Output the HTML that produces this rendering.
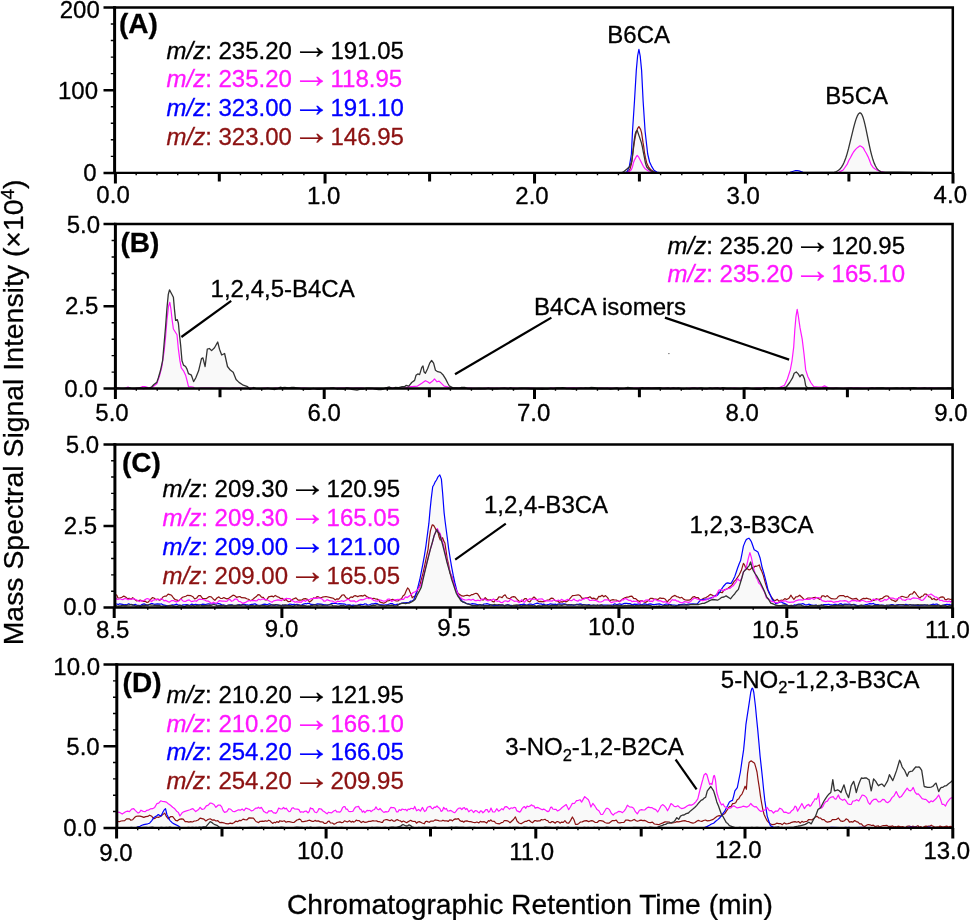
<!DOCTYPE html>
<html><head><meta charset="utf-8"><style>
html,body{margin:0;padding:0;background:#fff;width:971px;height:920px;overflow:hidden;}
svg{display:block;}
text{font-family:"Liberation Sans",sans-serif;stroke-width:0.3px;stroke-linejoin:round;}
</style></head><body>
<svg width="971" height="920" viewBox="0 0 971 920">
<rect width="971" height="920" fill="#fff"/>
<path d="M114.6,172.9 L621.1,172.9 L623.1,172.2 L628.6,167.6 L629.1,166.9 L629.6,164.9 L631.1,155.8 L631.6,149.9 L632.1,139.5 L632.6,129.7 L634.1,106.9 L634.6,99.1 L636.1,73.8 L636.6,67.1 L637.6,56.0 L638.6,50.9 L639.1,50.4 L640.1,55.5 L640.6,60.1 L641.6,70.4 L643.1,100.8 L645.1,131.2 L647.6,153.1 L648.1,155.7 L649.6,162.0 L651.6,166.3 L654.1,170.3 L656.6,171.9 L660.1,172.9 L788.1,172.6 L796.1,170.5 L799.1,171.0 L802.1,171.9 L832.6,172.5 L836.6,171.5 L838.6,170.3 L840.1,168.9 L841.6,167.0 L843.1,164.4 L844.1,162.3 L845.1,159.8 L846.1,156.9 L847.1,153.8 L848.6,148.4 L853.6,127.8 L854.6,124.0 L855.6,120.6 L856.6,117.7 L857.1,116.5 L857.6,115.4 L858.1,114.5 L858.6,113.8 L859.1,113.3 L859.6,113.0 L860.1,112.9 L860.6,113.1 L861.1,113.5 L861.6,114.1 L862.1,115.1 L862.6,116.2 L863.1,117.6 L863.6,119.3 L864.1,121.1 L865.1,125.2 L866.6,132.1 L869.1,144.3 L870.1,148.8 L871.1,153.0 L872.1,156.8 L873.1,160.1 L874.1,162.9 L875.1,165.2 L876.1,167.1 L877.1,168.6 L878.6,170.3 L879.6,171.0 L885.6,172.7 L952.6,172.9Z" fill="#f9f9f9" stroke="none"/>
<path d="M115.5,172.9 L624.0,172.9 L626.0,172.6 L628.3,171.8 L630.0,169.1 L631.3,164.3 L632.0,160.2 L634.1,143.7 L635.1,137.6 L636.1,132.8 L637.5,128.7 L638.9,126.6 L640.6,129.4 L641.6,132.8 L643.0,142.4 L643.7,146.5 L644.4,152.0 L645.4,157.4 L646.7,162.9 L648.5,167.0 L650.9,169.8 L653.6,171.5 L656.0,172.4 L659.0,172.9 L952.0,172.9" fill="none" stroke="#8c1212" stroke-width="1.2" stroke-linejoin="round"/>
<path d="M115.5,172.9 L622.0,172.9 L625.0,172.6 L627.2,171.8 L629.4,166.1 L631.4,154.0 L632.5,131.2 L634.5,100.8 L636.3,70.4 L637.6,56.0 L638.9,49.4 L640.2,56.0 L641.6,70.4 L643.1,100.8 L645.1,131.2 L647.7,154.0 L649.6,162.0 L651.5,166.1 L654.0,170.2 L656.8,172.0 L660.0,172.9 L787.0,172.8 L790.0,172.3 L795.0,170.7 L797.0,170.5 L799.0,170.9 L803.0,172.3 L807.0,172.8 L953.0,172.9" fill="none" stroke="#0000ff" stroke-width="1.2" stroke-linejoin="round"/>
<path d="M115.5,172.9 L625.0,172.9 L627.0,172.6 L629.3,171.5 L631.3,169.8 L632.4,167.0 L633.4,162.9 L634.4,160.2 L635.8,157.4 L637.2,155.4 L638.5,156.8 L643.3,166.3 L645.4,169.1 L648.1,170.8 L650.9,171.5 L653.0,172.4 L655.0,172.9 L838.0,172.9 L840.1,171.6 L843.2,170.0 L847.4,163.8 L848.9,160.2 L850.4,157.7 L852.0,154.6 L853.5,152.0 L855.6,149.4 L857.7,147.4 L860.0,145.8 L861.8,146.8 L863.3,147.9 L864.9,151.0 L866.4,153.5 L868.0,156.6 L869.5,160.2 L871.0,164.4 L873.1,167.4 L875.2,169.0 L877.7,170.5 L880.3,171.3 L882.4,171.7 L886.0,172.9 L952.0,172.9" fill="none" stroke="#ff17ff" stroke-width="1.2" stroke-linejoin="round"/>
<path d="M115.5,172.9 L621.0,172.9 L623.1,172.2 L626.9,169.1 L629.3,167.0 L630.7,164.3 L631.7,161.5 L632.4,156.1 L633.0,150.6 L633.7,144.4 L634.4,139.0 L635.1,134.8 L636.1,131.4 L637.2,130.4 L641.3,142.4 L642.3,146.5 L643.3,152.0 L644.4,157.4 L645.4,162.9 L646.7,167.0 L648.8,169.4 L651.5,171.1 L654.0,172.2 L657.0,172.9 L833.0,172.5 L836.5,171.5 L838.5,170.3 L840.0,169.0 L841.5,167.1 L843.0,164.6 L844.0,162.5 L845.0,160.1 L846.0,157.3 L847.0,154.1 L848.5,148.7 L853.5,128.2 L854.5,124.4 L855.5,120.9 L856.5,117.9 L857.0,116.7 L857.5,115.6 L858.0,114.7 L858.5,113.9 L859.0,113.4 L859.5,113.0 L860.0,112.9 L860.5,113.0 L861.0,113.3 L861.5,114.0 L862.0,114.8 L862.5,116.0 L863.0,117.3 L863.5,118.9 L864.0,120.7 L865.0,124.7 L866.0,129.2 L869.5,146.1 L870.5,150.6 L871.5,154.6 L872.5,158.2 L873.5,161.3 L874.5,163.9 L875.5,166.0 L876.5,167.8 L877.5,169.1 L879.0,170.6 L881.0,171.8 L952.5,172.9" fill="none" stroke="#333333" stroke-width="1.3" stroke-linejoin="round"/>
<path d="M115.4,388.6 L115.4,387.2 L116.9,387.8 L124.9,388.3 L127.9,387.0 L130.4,388.1 L134.9,388.5 L138.9,388.0 L142.4,386.7 L144.9,386.7 L149.4,388.0 L149.9,388.0 L151.9,386.6 L153.9,384.5 L156.4,382.7 L156.9,382.1 L158.4,377.7 L160.4,370.8 L162.4,361.6 L162.9,357.3 L165.4,328.8 L165.9,322.2 L166.9,308.8 L167.9,298.5 L168.4,294.0 L169.4,290.2 L169.9,290.6 L173.4,297.3 L174.4,308.8 L175.4,318.5 L175.9,320.3 L176.9,319.8 L177.4,319.9 L178.4,323.3 L178.9,328.7 L179.4,333.8 L180.4,343.0 L180.9,348.3 L181.9,359.6 L182.4,361.9 L183.4,364.8 L183.9,365.4 L185.4,366.4 L185.9,367.1 L186.9,369.0 L187.4,370.3 L188.4,373.4 L188.9,373.9 L191.4,375.2 L193.4,381.0 L193.9,381.1 L195.4,378.5 L195.9,377.5 L198.4,371.3 L198.9,369.5 L201.4,359.0 L201.9,358.4 L202.9,357.9 L204.9,365.7 L205.4,364.1 L206.9,352.3 L207.4,349.2 L209.4,348.5 L211.4,350.4 L211.9,350.3 L214.4,347.9 L217.4,342.5 L217.9,342.8 L219.4,348.8 L221.4,354.2 L221.9,354.9 L224.4,353.6 L224.9,354.8 L227.4,366.1 L227.9,367.0 L230.4,370.2 L232.9,372.1 L233.4,372.8 L235.9,379.0 L236.4,379.8 L238.9,382.3 L243.4,385.2 L247.4,386.6 L248.9,388.1 L251.9,388.3 L253.9,387.6 L255.4,388.4 L267.9,388.2 L278.4,388.2 L279.9,387.3 L288.9,387.8 L293.9,387.3 L299.4,388.2 L312.4,388.6 L313.4,388.4 L314.4,388.6 L333.4,387.8 L335.4,388.3 L345.9,388.1 L346.9,387.9 L365.4,388.4 L366.9,388.1 L384.9,388.3 L389.4,387.0 L391.4,388.0 L393.4,388.0 L394.9,387.6 L398.9,387.6 L402.4,386.6 L404.9,386.5 L405.9,385.5 L408.4,386.0 L408.9,386.0 L411.4,382.9 L414.4,380.5 L414.9,379.3 L415.9,375.7 L416.4,375.0 L417.9,373.9 L419.4,374.5 L419.9,373.6 L421.4,368.7 L421.9,367.3 L422.9,366.1 L423.4,368.3 L423.9,371.1 L424.4,372.1 L425.4,373.2 L427.4,369.2 L429.4,363.9 L429.9,362.8 L431.4,360.8 L431.9,360.9 L433.4,362.8 L433.9,364.2 L435.4,369.9 L435.9,370.6 L437.9,371.7 L440.4,372.4 L443.4,375.3 L445.4,378.6 L448.9,385.3 L449.4,385.9 L452.9,387.7 L459.9,388.0 L461.4,387.5 L464.9,387.5 L466.4,388.0 L509.4,388.3 L510.4,388.0 L511.4,388.2 L555.4,388.2 L556.9,387.9 L562.9,387.7 L564.4,388.1 L583.9,388.2 L585.4,387.8 L588.4,388.2 L590.9,387.5 L594.4,387.6 L597.9,388.4 L616.9,388.0 L618.4,388.4 L624.4,388.3 L627.9,387.5 L631.9,388.2 L641.4,388.0 L642.4,387.7 L659.9,387.8 L662.4,388.3 L668.4,388.1 L669.9,388.4 L673.4,387.9 L676.9,388.2 L678.4,388.0 L699.4,388.2 L700.9,388.0 L707.4,388.6 L709.4,388.0 L721.4,388.3 L722.9,387.8 L726.4,388.5 L730.4,388.3 L741.9,388.5 L745.9,387.8 L753.9,388.5 L762.4,388.4 L763.4,388.0 L766.9,387.6 L769.4,388.2 L776.4,388.3 L778.9,387.9 L784.4,385.3 L784.9,384.4 L787.4,379.0 L789.9,371.2 L790.4,369.4 L791.9,361.3 L792.4,357.6 L793.4,349.5 L793.9,344.0 L794.4,336.2 L794.9,328.9 L795.9,317.4 L796.4,314.0 L796.9,311.1 L797.4,310.5 L797.9,313.4 L798.4,316.5 L799.9,327.0 L800.4,329.8 L801.9,337.5 L802.4,340.7 L803.9,353.1 L805.4,367.1 L805.9,370.5 L807.9,376.8 L810.9,382.6 L813.4,386.1 L813.9,386.5 L821.9,387.0 L824.4,385.9 L828.9,388.1 L836.4,388.0 L875.9,388.1 L883.4,388.1 L885.4,388.4 L913.9,387.7 L917.4,388.2 L924.9,388.0 L948.9,387.8 L950.9,388.0 L952.4,387.3 L952.4,388.6Z" fill="#f9f9f9" stroke="none"/>
<path d="M115.5,387.3 L117.0,387.9 L120.4,388.4 L124.2,388.6 L128.0,387.0 L130.9,388.3 L134.2,388.9 L136.5,388.2 L139.0,388.0 L142.2,386.7 L144.7,386.6 L150.8,388.3 L156.8,383.8 L159.7,375.2 L161.9,366.5 L164.0,352.1 L165.5,337.7 L166.9,320.4 L168.6,306.0 L169.8,302.3 L170.9,308.8 L172.0,318.9 L173.4,329.0 L177.0,334.8 L178.4,349.2 L179.9,360.7 L181.3,367.9 L183.5,370.8 L185.6,375.2 L187.1,380.9 L188.5,386.7 L192.9,387.0 L195.0,388.5 L198.6,388.4 L201.2,388.1 L211.4,388.1 L214.9,388.3 L217.8,388.3 L221.1,388.2 L230.1,388.6 L232.8,388.2 L236.4,388.4 L239.3,388.2 L244.3,388.5 L247.5,388.3 L250.8,388.2 L254.6,388.5 L260.9,388.5 L264.8,388.2 L272.5,388.5 L275.5,388.2 L281.3,388.2 L283.6,388.1 L289.4,388.4 L291.5,388.3 L295.2,388.4 L304.6,388.0 L310.3,388.5 L312.8,388.7 L320.2,388.4 L323.8,388.5 L330.2,388.3 L332.5,388.4 L340.7,388.0 L346.4,388.2 L350.2,388.1 L353.0,388.4 L356.2,388.2 L361.5,388.2 L364.2,388.4 L370.7,388.6 L376.2,388.3 L379.2,388.5 L385.1,388.3 L387.3,388.0 L390.7,388.0 L394.1,388.1 L397.9,388.4 L400.1,388.2 L403.9,388.3 L408.8,386.9 L417.5,386.1 L421.8,383.3 L425.4,380.7 L427.6,381.8 L429.7,383.3 L432.6,381.1 L434.5,378.9 L437.0,381.8 L439.1,381.1 L444.2,386.1 L447.8,386.9 L450.0,388.2 L454.6,388.3 L460.4,388.0 L463.3,387.9 L465.5,388.1 L469.1,388.0 L471.6,388.2 L475.4,388.3 L480.4,388.6 L483.0,388.3 L488.9,388.1 L494.8,388.3 L497.0,388.1 L499.5,388.3 L505.5,388.2 L508.2,388.4 L511.5,388.2 L518.3,388.4 L521.0,388.6 L529.7,388.0 L536.2,388.5 L542.0,388.4 L544.9,388.5 L548.7,388.4 L552.0,388.1 L559.3,388.5 L565.2,388.1 L573.9,387.9 L576.4,388.1 L580.1,388.0 L586.7,388.4 L593.2,388.2 L596.9,388.5 L599.3,388.2 L601.8,388.1 L604.8,388.3 L607.3,388.0 L610.2,388.1 L613.3,388.4 L619.9,388.4 L625.6,388.6 L635.2,388.0 L639.8,388.1 L647.1,387.9 L650.8,388.1 L655.9,388.1 L658.2,388.4 L662.1,388.3 L665.0,388.1 L667.3,388.1 L669.9,388.4 L672.3,388.1 L684.5,388.5 L690.6,388.1 L697.6,388.2 L700.1,388.4 L707.5,388.6 L710.9,388.3 L714.0,388.2 L716.1,388.0 L718.7,388.0 L725.0,388.6 L728.9,388.7 L734.1,388.2 L740.3,388.5 L743.3,388.5 L746.8,388.2 L750.1,388.4 L753.6,388.5 L756.6,388.2 L760.1,388.2 L763.6,388.5 L766.4,388.3 L770.3,388.4 L772.7,388.2 L775.0,388.4 L778.6,388.2 L780.5,387.0 L784.5,385.3 L787.4,379.0 L790.3,369.9 L792.0,360.8 L793.7,347.1 L794.8,330.0 L796.0,316.3 L797.2,309.4 L798.2,315.1 L800.0,327.7 L802.2,339.1 L804.0,353.9 L805.7,369.9 L807.9,376.8 L810.8,382.5 L813.7,386.5 L818.2,387.0 L822.0,387.0 L824.5,385.9 L827.0,387.0 L829.0,388.2 L836.2,388.0 L838.7,388.4 L844.1,388.3 L853.3,387.9 L861.9,388.1 L865.8,388.0 L875.6,388.2 L878.9,388.5 L882.0,388.2 L884.2,388.5 L887.2,388.2 L894.4,388.5 L904.2,388.0 L911.4,388.5 L914.4,388.2 L916.7,388.3 L919.7,388.1 L923.5,388.2 L929.4,388.0 L935.0,388.1 L938.6,388.4 L941.0,388.3 L943.4,388.4 L950.7,388.1 L952.5,387.3" fill="none" stroke="#ff17ff" stroke-width="1.2" stroke-linejoin="round"/>
<path d="M115.5,387.2 L117.0,387.9 L120.6,388.3 L126.1,388.4 L129.6,387.9 L131.8,388.4 L134.6,388.5 L140.1,388.0 L143.9,388.5 L146.1,387.9 L149.2,388.4 L151.8,386.7 L153.9,384.5 L156.8,382.4 L158.3,378.0 L160.4,370.8 L162.6,360.7 L164.0,344.9 L165.5,327.6 L166.9,308.8 L168.3,294.4 L169.5,289.8 L173.4,297.3 L174.4,308.8 L175.6,320.4 L177.3,319.6 L178.4,323.3 L179.2,331.9 L180.6,344.9 L182.0,360.7 L183.5,365.1 L185.6,366.5 L187.1,369.4 L188.5,373.7 L191.4,375.2 L193.6,381.6 L195.7,378.0 L198.6,370.8 L201.5,358.6 L202.9,357.9 L205.1,366.5 L207.3,349.2 L209.4,348.5 L211.6,350.6 L214.5,347.8 L217.7,342.0 L219.5,349.2 L221.7,355.0 L224.6,353.5 L227.5,366.5 L230.3,370.1 L233.2,372.3 L236.1,379.5 L239.0,382.4 L243.3,385.2 L247.6,386.7 L250.0,389.3 L253.8,387.5 L256.1,388.7 L259.5,388.8 L265.3,388.6 L267.7,388.2 L274.4,389.6 L277.5,388.7 L280.1,387.2 L282.2,387.6 L284.9,387.5 L288.6,387.9 L291.7,387.3 L293.9,387.3 L300.1,388.3 L302.5,389.2 L309.8,389.4 L313.3,388.4 L317.2,389.4 L319.6,389.4 L323.0,388.7 L326.0,388.4 L329.8,388.2 L333.4,387.8 L337.1,389.0 L340.0,388.7 L343.8,389.0 L346.7,387.8 L349.4,388.5 L351.8,389.3 L357.0,390.1 L360.4,389.1 L363.5,389.0 L366.6,388.1 L369.1,388.1 L372.9,388.4 L375.1,389.1 L378.5,389.6 L381.0,389.5 L383.2,389.2 L385.8,387.9 L389.4,387.0 L392.5,388.5 L395.0,387.5 L398.7,387.6 L402.1,386.7 L404.8,386.5 L406.0,385.4 L408.8,386.1 L411.7,382.5 L414.6,380.4 L416.0,375.3 L417.8,373.9 L419.6,374.6 L421.8,367.4 L423.0,366.0 L424.0,371.7 L425.4,373.2 L427.6,368.8 L429.7,363.1 L431.6,360.5 L433.6,363.1 L435.5,370.3 L437.7,371.7 L440.6,372.4 L443.4,375.3 L445.6,378.9 L447.8,383.3 L449.2,385.8 L453.0,387.8 L456.1,387.8 L459.3,388.2 L461.5,387.4 L465.1,387.5 L467.6,388.6 L470.6,388.9 L479.6,388.5 L485.2,388.8 L488.4,388.2 L490.5,388.8 L497.2,388.8 L500.9,388.4 L504.5,388.2 L508.2,388.8 L510.5,387.9 L513.0,388.8 L518.5,388.5 L521.3,388.1 L528.2,388.5 L532.0,388.9 L535.9,388.8 L542.1,389.3 L545.2,389.1 L547.7,389.1 L550.8,388.3 L553.0,388.8 L556.9,387.9 L560.5,387.9 L562.8,387.7 L566.3,388.5 L570.7,388.7 L573.4,389.0 L581.1,388.1 L583.4,388.3 L585.5,387.8 L588.4,388.2 L590.7,387.5 L594.4,387.6 L598.2,388.5 L601.0,388.3 L604.1,388.5 L607.2,388.4 L610.4,389.0 L616.9,387.9 L619.5,388.8 L622.5,388.6 L624.7,388.3 L627.8,387.5 L633.2,388.3 L638.9,388.7 L642.3,387.7 L644.5,388.2 L648.4,387.8 L651.3,388.2 L659.8,387.7 L662.6,388.4 L664.7,388.4 L668.1,388.0 L670.6,388.6 L673.2,387.9 L676.1,388.4 L678.3,388.0 L681.0,388.6 L683.9,389.0 L686.3,388.3 L689.6,388.9 L692.5,388.1 L694.8,388.2 L697.3,388.7 L700.9,387.9 L703.5,388.5 L706.7,388.8 L709.5,388.0 L712.1,388.5 L714.7,388.1 L717.5,388.0 L720.4,388.8 L722.7,387.7 L726.5,388.5 L730.4,388.3 L734.2,388.9 L740.3,388.8 L743.4,388.2 L746.1,387.8 L753.1,389.0 L756.5,389.3 L760.2,389.3 L763.3,388.0 L766.7,387.6 L769.4,388.2 L772.4,388.0 L776.2,388.3 L778.9,387.9 L782.6,388.0 L786.3,387.0 L789.7,382.5 L792.5,377.9 L794.2,373.3 L796.3,372.0 L798.2,373.9 L800.0,376.8 L801.1,375.0 L802.8,375.0 L804.5,379.0 L805.7,385.9 L806.8,387.0 L808.0,388.0 L810.3,388.0 L812.7,387.8 L815.5,388.3 L819.0,388.5 L821.5,388.4 L824.1,388.0 L826.4,387.9 L830.2,388.3 L833.7,388.5 L836.2,388.2 L843.1,388.6 L851.0,388.2 L853.3,388.6 L857.0,388.4 L862.7,388.7 L869.2,388.4 L872.1,388.0 L874.7,388.4 L876.9,387.9 L880.1,387.9 L883.2,388.0 L885.9,388.5 L888.4,388.3 L890.8,388.3 L896.9,388.0 L900.0,388.4 L902.3,388.0 L904.8,388.3 L913.6,387.7 L917.0,388.2 L920.8,388.4 L924.6,387.9 L927.2,388.4 L930.7,388.2 L934.5,388.3 L938.1,388.1 L946.7,388.0 L948.8,387.8 L951.2,388.2 L952.5,387.2" fill="none" stroke="#333333" stroke-width="1.3" stroke-linejoin="round"/>
<path d="M114.9,607.5 L114.9,594.5 L115.4,594.5 L116.4,595.1 L116.9,595.6 L117.9,597.8 L118.4,598.0 L119.9,598.0 L121.9,597.2 L123.4,596.4 L123.9,596.2 L125.9,597.2 L127.4,598.5 L129.4,598.4 L130.9,599.1 L131.4,598.9 L132.4,598.0 L132.9,597.9 L134.4,599.0 L137.9,600.6 L139.9,600.1 L140.4,600.2 L142.4,601.0 L142.9,600.9 L146.9,598.7 L147.4,598.6 L148.9,599.1 L149.9,599.9 L150.4,599.7 L152.4,597.7 L152.9,597.6 L154.4,598.2 L155.4,599.2 L155.9,599.3 L156.4,599.1 L156.9,599.3 L157.4,599.2 L157.9,599.0 L158.9,599.7 L159.4,599.8 L160.9,598.8 L161.4,598.9 L161.9,598.5 L162.9,597.1 L164.4,596.3 L166.4,596.1 L167.9,594.3 L168.4,594.2 L171.4,595.2 L171.9,595.7 L173.4,597.9 L175.4,599.8 L178.4,600.5 L178.9,600.5 L182.4,597.4 L185.9,596.3 L187.4,595.3 L190.9,595.7 L192.9,596.8 L194.4,598.6 L194.9,598.9 L196.4,598.2 L196.9,597.8 L198.4,596.0 L198.9,595.7 L200.4,595.7 L200.9,596.2 L202.4,598.1 L202.9,598.3 L205.9,598.7 L206.4,598.5 L209.4,596.5 L210.9,596.7 L211.4,597.0 L214.9,600.4 L216.9,598.0 L218.9,596.9 L220.4,598.3 L221.9,598.5 L222.4,598.4 L223.9,597.5 L225.4,598.4 L226.9,598.8 L228.9,598.2 L232.9,595.3 L234.4,595.6 L234.9,595.8 L236.4,597.2 L239.9,596.6 L241.4,597.6 L244.9,597.9 L248.4,599.2 L250.4,600.6 L252.4,599.8 L256.4,596.5 L257.9,594.7 L259.4,594.8 L259.9,595.1 L261.4,597.1 L262.9,597.3 L263.4,597.6 L264.4,599.0 L264.9,599.5 L265.9,599.3 L266.9,599.7 L268.4,597.1 L268.9,596.8 L271.9,596.1 L273.4,596.8 L273.9,596.6 L274.9,595.7 L275.4,595.5 L277.4,596.7 L278.9,597.3 L280.4,598.4 L280.9,598.7 L282.4,598.3 L283.4,599.2 L285.4,598.8 L286.4,598.2 L287.9,598.6 L289.9,598.6 L291.4,600.0 L295.9,598.0 L297.9,599.9 L298.4,600.1 L301.9,600.0 L303.4,599.0 L305.4,598.7 L307.4,599.4 L307.9,599.9 L310.4,599.0 L311.4,598.5 L312.9,598.6 L313.4,598.1 L313.9,598.0 L314.4,598.2 L315.4,598.2 L316.9,596.7 L318.4,596.9 L320.4,598.1 L322.4,597.2 L325.9,596.5 L333.4,598.4 L334.9,599.7 L335.4,600.0 L336.9,598.9 L338.4,599.2 L338.9,599.0 L341.9,595.4 L342.4,595.0 L343.9,594.9 L344.4,595.4 L345.9,597.4 L347.4,598.4 L347.9,598.6 L349.4,598.3 L350.9,597.0 L352.4,597.4 L352.9,597.1 L353.9,596.1 L354.4,595.8 L355.4,595.7 L357.4,596.4 L357.9,596.5 L359.9,595.8 L361.4,595.6 L362.9,596.0 L364.4,595.2 L364.9,595.2 L366.9,596.6 L369.9,598.0 L372.4,598.5 L373.9,598.3 L375.9,599.0 L376.9,599.1 L378.9,600.0 L379.4,599.8 L383.4,601.1 L385.4,601.0 L385.9,600.8 L387.9,599.1 L389.4,599.2 L389.9,599.4 L390.4,600.0 L392.4,599.5 L392.9,599.5 L393.9,600.0 L397.9,599.5 L399.4,599.8 L399.9,599.4 L401.4,598.7 L401.9,598.0 L402.9,596.1 L403.4,595.5 L404.4,594.8 L404.9,594.0 L406.4,590.5 L407.4,588.3 L407.9,588.2 L408.4,588.7 L408.9,589.4 L409.9,591.7 L410.9,593.6 L411.4,594.4 L412.9,592.8 L413.4,592.4 L415.4,591.5 L416.9,590.4 L417.4,589.1 L418.4,585.2 L419.9,579.0 L422.9,563.7 L424.4,555.3 L425.9,546.0 L428.9,523.2 L429.9,512.2 L430.9,502.0 L431.4,497.3 L432.4,489.1 L432.9,486.4 L433.9,484.6 L434.9,482.4 L436.4,480.1 L437.9,477.0 L439.4,475.3 L439.9,475.2 L441.4,479.1 L442.4,490.5 L442.9,496.8 L443.9,510.0 L444.4,515.1 L445.4,523.1 L447.4,538.3 L448.4,546.6 L448.9,550.4 L450.4,559.7 L451.4,565.5 L451.9,568.3 L453.4,575.9 L454.9,582.9 L456.9,591.0 L457.4,592.2 L457.9,593.1 L458.4,593.7 L461.9,595.9 L463.4,596.1 L467.4,595.2 L469.4,595.9 L471.4,594.8 L472.9,594.6 L474.4,593.7 L475.9,593.2 L477.4,593.8 L477.9,594.4 L480.4,598.3 L481.4,599.3 L482.4,599.0 L483.9,599.1 L484.4,598.7 L484.9,598.0 L485.4,597.7 L486.9,599.3 L488.9,600.0 L490.4,599.6 L491.4,600.2 L493.4,599.0 L493.9,599.2 L495.4,600.2 L495.9,599.8 L497.4,599.3 L498.9,597.0 L500.4,597.0 L501.9,597.5 L502.4,597.2 L503.4,595.9 L504.9,594.9 L505.4,595.3 L506.9,597.6 L508.9,598.4 L510.4,598.2 L511.9,597.0 L513.4,596.7 L514.9,596.8 L519.4,601.4 L519.9,601.6 L521.9,599.7 L522.4,600.4 L522.9,600.7 L524.4,598.9 L524.9,598.6 L526.4,598.7 L526.9,599.5 L527.4,599.9 L528.9,599.4 L529.9,598.7 L531.4,599.2 L531.9,599.0 L533.9,597.1 L535.4,598.3 L536.4,599.4 L536.9,599.8 L540.4,598.9 L541.9,598.9 L542.4,599.1 L543.9,600.5 L544.4,600.9 L549.4,599.6 L550.9,598.4 L551.4,598.2 L552.9,598.4 L553.4,598.8 L554.4,599.9 L556.9,600.7 L557.9,600.2 L558.4,600.1 L559.9,601.1 L561.4,599.4 L563.9,600.4 L565.4,600.4 L567.4,599.4 L567.9,599.3 L568.9,599.8 L572.4,595.6 L577.9,594.9 L578.4,594.9 L579.9,595.5 L580.4,596.0 L581.9,598.1 L582.4,598.4 L584.4,598.2 L586.4,597.7 L587.9,597.8 L589.9,596.8 L591.9,598.5 L593.4,598.2 L593.9,598.2 L595.4,599.0 L596.9,599.1 L597.4,598.8 L598.4,597.1 L598.9,596.4 L600.4,596.6 L601.9,595.5 L602.4,595.6 L603.9,596.8 L605.4,595.7 L605.9,596.0 L607.4,597.4 L607.9,598.1 L609.4,600.6 L609.9,601.0 L611.4,600.0 L612.9,599.7 L616.4,600.1 L617.9,600.8 L618.4,600.7 L619.9,601.2 L623.4,598.6 L626.4,597.2 L627.9,597.2 L630.4,596.4 L631.9,596.2 L633.9,598.5 L635.4,598.6 L635.9,598.8 L637.4,600.3 L639.4,601.3 L639.9,601.3 L641.4,600.6 L641.9,600.7 L642.9,601.2 L643.9,601.3 L644.4,601.1 L645.4,600.2 L648.9,599.9 L649.9,598.8 L650.4,598.4 L652.4,598.5 L653.9,599.0 L657.9,599.5 L659.4,598.2 L659.9,597.9 L663.4,598.3 L665.4,599.2 L666.9,601.6 L667.4,601.9 L668.9,599.8 L670.4,598.7 L671.9,597.0 L674.9,595.5 L675.4,595.7 L676.9,596.6 L678.4,597.0 L679.9,597.9 L681.9,597.4 L683.4,598.9 L685.4,600.0 L688.9,600.2 L690.9,599.3 L692.4,597.4 L692.9,597.1 L694.4,596.6 L695.9,597.6 L696.4,597.7 L697.9,597.5 L699.9,599.7 L701.4,599.5 L703.9,598.2 L707.9,596.4 L709.9,594.8 L710.4,594.4 L713.9,596.2 L714.9,596.0 L715.9,595.2 L716.9,594.1 L717.4,592.7 L718.9,590.1 L721.4,589.3 L723.4,586.4 L725.9,583.5 L726.4,583.2 L727.9,582.9 L729.4,583.3 L730.9,583.3 L731.4,582.9 L734.4,577.2 L734.9,576.1 L738.9,564.4 L739.4,563.2 L740.4,561.0 L740.9,559.1 L743.4,546.1 L744.9,542.5 L745.9,540.4 L746.4,539.5 L747.9,538.6 L748.9,538.2 L749.9,539.3 L751.4,541.8 L753.9,548.9 L754.4,549.8 L757.9,551.9 L759.9,557.4 L760.4,559.5 L761.9,566.4 L762.4,568.5 L763.9,573.5 L766.4,582.9 L767.9,589.4 L770.4,595.2 L773.4,599.8 L773.9,600.2 L775.4,600.4 L776.9,599.5 L777.4,599.4 L778.9,601.1 L779.4,601.1 L780.9,600.2 L782.9,600.4 L784.4,599.0 L784.9,598.7 L786.4,599.4 L786.9,599.4 L788.9,598.2 L790.9,595.3 L791.4,595.9 L792.4,597.6 L793.9,599.5 L795.9,596.8 L797.9,596.5 L799.4,595.4 L799.9,595.4 L803.9,599.4 L805.9,599.3 L807.9,598.0 L811.4,598.3 L813.9,597.5 L815.4,597.3 L816.9,597.7 L817.9,597.5 L819.9,598.0 L820.4,598.5 L820.9,597.9 L821.9,596.1 L822.4,595.9 L823.4,595.8 L823.9,596.0 L825.4,596.9 L826.9,595.7 L827.4,595.9 L831.4,598.7 L834.9,599.0 L836.4,598.6 L836.9,598.3 L837.9,597.0 L838.4,596.5 L839.9,595.7 L843.4,595.6 L845.4,596.8 L847.4,596.3 L850.9,598.4 L852.4,598.9 L852.9,599.0 L855.9,598.3 L856.4,598.5 L857.9,599.9 L859.4,600.6 L859.9,600.7 L861.4,599.4 L863.4,598.4 L864.9,598.7 L866.9,598.2 L869.9,599.1 L871.4,600.5 L871.9,600.7 L872.4,600.1 L872.9,599.3 L874.4,599.3 L874.9,599.5 L875.4,599.4 L875.9,599.0 L876.4,598.7 L877.9,599.4 L879.4,599.4 L882.4,598.3 L884.4,596.6 L885.9,595.9 L887.4,596.0 L887.9,596.2 L889.4,597.7 L889.9,598.1 L892.9,598.0 L894.9,598.9 L896.4,599.1 L897.9,598.7 L898.4,598.1 L899.4,597.5 L901.9,596.3 L905.9,597.5 L907.9,597.0 L909.4,595.0 L910.9,594.1 L912.4,593.9 L912.9,593.3 L913.9,591.8 L914.4,591.8 L915.4,592.7 L918.4,596.9 L919.9,597.9 L920.4,597.5 L921.4,596.4 L922.9,596.0 L924.4,594.2 L924.9,594.0 L925.9,594.0 L926.4,594.2 L927.4,595.0 L927.9,595.1 L929.4,594.8 L930.9,594.1 L934.9,596.9 L936.4,597.2 L936.9,597.4 L937.9,598.3 L938.4,598.6 L940.4,597.4 L942.4,596.9 L943.4,597.2 L943.9,597.6 L944.9,599.3 L945.4,599.7 L946.4,599.7 L947.9,598.8 L949.4,599.1 L950.4,599.4 L952.4,599.0 L952.4,607.5Z" fill="#f9f9f9" stroke="none"/>
<path d="M115.5,594.5 L116.8,595.3 L118.0,598.0 L120.0,598.0 L121.9,597.3 L123.8,596.1 L125.6,597.0 L127.5,598.6 L129.4,598.4 L131.1,599.2 L132.7,597.7 L136.5,600.9 L138.6,600.5 L140.2,600.1 L143.3,601.4 L144.9,601.1 L146.6,602.3 L148.2,602.1 L150.4,599.7 L152.6,597.5 L154.3,598.2 L156.1,599.9 L157.9,599.0 L159.7,600.3 L161.3,599.3 L162.9,597.0 L164.6,596.2 L166.3,596.2 L168.1,594.1 L169.8,594.6 L171.6,595.3 L173.5,598.0 L175.3,599.7 L177.2,600.1 L179.0,600.7 L180.8,598.9 L182.5,597.3 L185.8,596.3 L187.5,595.3 L191.0,595.7 L192.9,596.7 L194.7,599.0 L196.7,598.0 L198.6,595.7 L200.5,595.7 L202.5,598.3 L206.1,598.7 L209.3,596.5 L211.2,596.8 L213.0,598.7 L214.9,600.4 L216.9,598.0 L218.9,596.9 L220.5,598.4 L222.2,598.5 L223.8,597.5 L225.5,598.4 L227.1,598.9 L228.7,598.3 L233.0,595.2 L234.7,595.6 L236.5,597.3 L238.2,596.8 L239.9,596.5 L241.6,597.7 L245.0,597.9 L246.8,598.7 L248.6,599.3 L250.4,600.7 L252.3,599.9 L254.3,598.0 L256.3,596.6 L258.0,594.7 L259.6,594.8 L261.5,597.1 L263.3,597.4 L265.1,600.0 L266.8,599.9 L268.6,596.9 L271.9,596.1 L273.6,596.9 L275.2,595.4 L277.1,596.6 L278.9,597.3 L280.8,598.7 L282.5,598.3 L284.2,600.5 L285.9,599.5 L288.1,601.6 L290.2,601.5 L292.1,599.5 L296.0,597.9 L298.1,600.1 L300.3,600.1 L302.0,600.0 L303.6,598.8 L305.3,598.6 L307.5,599.4 L309.6,602.1 L311.6,600.6 L313.5,597.9 L315.2,598.4 L316.9,596.7 L318.5,596.9 L320.4,598.1 L322.3,597.2 L326.0,596.5 L331.6,597.8 L333.5,598.4 L335.3,600.0 L337.0,598.8 L338.7,599.2 L342.2,595.0 L344.0,594.9 L345.8,597.4 L347.7,598.6 L349.3,598.3 L351.0,596.9 L352.5,597.5 L354.1,595.9 L355.7,595.7 L357.7,596.6 L359.7,595.8 L361.4,595.6 L363.0,596.1 L364.7,595.0 L366.6,596.5 L368.6,597.5 L370.5,598.2 L372.2,598.5 L373.9,598.3 L375.6,599.0 L377.1,599.1 L378.6,599.9 L380.1,602.2 L381.9,602.6 L383.8,603.3 L385.7,602.3 L387.3,600.9 L388.9,600.6 L392.7,599.4 L394.6,600.4 L396.4,601.0 L398.2,600.8 L400.0,599.3 L401.5,598.7 L403.1,595.8 L404.6,594.7 L406.1,591.1 L407.6,587.9 L408.8,589.1 L409.9,591.7 L411.0,593.9 L412.2,597.8 L413.7,596.6 L415.2,596.2 L416.7,592.5 L418.3,588.4 L419.8,585.6 L421.3,579.3 L422.8,574.1 L424.3,567.3 L426.2,558.0 L428.1,549.1 L429.2,539.0 L430.4,530.8 L432.2,524.8 L433.6,525.4 L435.0,527.8 L436.5,531.0 L438.0,532.4 L439.1,537.1 L440.3,540.0 L441.5,539.8 L442.6,537.7 L443.8,541.1 L444.9,543.0 L446.0,550.4 L447.1,558.2 L448.6,564.9 L450.2,573.4 L451.7,576.0 L453.2,581.0 L454.8,586.7 L456.3,590.2 L458.2,593.6 L460.1,594.7 L461.9,595.9 L463.6,596.1 L465.4,595.5 L467.4,595.2 L469.5,595.9 L471.5,594.7 L473.0,594.6 L474.5,593.7 L476.0,593.2 L477.6,593.9 L479.1,596.2 L480.6,598.6 L482.0,599.8 L483.6,599.9 L485.2,597.6 L487.1,599.5 L489.0,600.0 L490.6,599.6 L492.3,601.4 L493.9,602.0 L495.6,599.9 L497.3,599.4 L498.9,596.9 L500.6,597.0 L502.1,597.6 L503.6,595.7 L505.1,594.8 L506.9,597.7 L508.8,598.5 L510.3,598.3 L511.8,597.0 L513.4,596.7 L515.0,596.8 L516.5,598.7 L518.1,600.3 L519.7,601.7 L521.3,601.5 L523.0,600.7 L524.7,598.6 L526.3,598.6 L528.1,601.3 L529.9,602.0 L531.9,598.9 L534.0,597.0 L535.7,598.5 L537.4,600.6 L539.0,601.7 L540.6,601.4 L542.1,601.6 L543.9,601.6 L545.6,600.7 L547.3,600.0 L549.2,599.8 L551.1,598.2 L553.0,598.4 L554.6,600.2 L556.1,601.0 L557.7,601.0 L559.3,602.6 L560.9,601.7 L562.5,602.1 L564.1,600.9 L565.6,601.8 L567.2,601.4 L568.9,600.0 L570.5,597.8 L572.5,595.6 L574.4,595.5 L578.2,594.8 L580.1,595.6 L582.1,598.4 L584.2,598.3 L586.2,597.7 L588.1,597.8 L590.0,596.8 L591.8,598.5 L593.7,598.1 L595.6,599.1 L597.2,599.1 L598.8,596.3 L600.4,596.6 L602.1,595.3 L603.8,596.8 L605.5,595.6 L607.6,597.6 L609.7,601.2 L611.3,600.0 L613.0,599.7 L614.6,600.0 L616.3,600.0 L619.6,601.7 L621.3,600.1 L623.1,598.8 L624.8,597.9 L626.5,597.2 L628.1,597.2 L630.0,596.4 L631.9,596.2 L633.8,598.5 L635.7,598.6 L637.6,600.5 L639.6,601.4 L641.6,600.5 L643.8,601.8 L645.9,602.3 L648.1,600.8 L650.3,598.4 L652.2,598.4 L654.1,599.1 L656.0,599.1 L657.9,599.5 L659.8,597.9 L661.6,598.3 L663.5,598.3 L665.4,599.2 L667.2,602.2 L668.8,599.9 L670.3,598.9 L671.8,597.1 L673.4,596.1 L675.0,595.4 L676.7,596.6 L678.3,596.9 L680.0,598.0 L681.8,597.3 L683.6,599.1 L685.4,600.0 L687.2,600.2 L689.0,600.2 L690.8,599.4 L692.6,597.1 L694.4,596.6 L696.2,597.7 L698.0,597.5 L699.8,599.7 L701.6,599.5 L703.8,598.2 L706.0,597.5 L708.1,596.3 L710.3,594.4 L712.5,595.3 L714.6,596.6 L718.5,592.5 L720.4,592.3 L722.3,592.6 L724.2,589.8 L726.1,589.4 L728.0,588.3 L731.9,585.1 L734.0,581.6 L736.2,579.3 L739.1,575.0 L741.3,570.6 L743.4,563.4 L744.5,564.9 L745.6,567.8 L749.2,570.0 L750.6,569.2 L752.0,567.6 L753.5,567.8 L755.0,566.2 L756.4,566.3 L757.8,565.8 L759.3,564.9 L760.4,568.5 L761.5,570.6 L763.3,575.4 L765.1,582.2 L767.2,588.7 L769.4,593.7 L771.5,597.1 L773.7,600.2 L775.5,600.4 L777.3,599.3 L779.1,601.3 L780.9,600.2 L782.8,600.4 L784.8,598.6 L786.7,599.5 L788.9,598.3 L791.0,595.2 L792.5,597.7 L793.9,599.5 L795.8,596.8 L797.8,596.6 L799.7,595.2 L801.9,597.2 L804.0,599.5 L805.9,599.3 L807.9,598.0 L809.8,598.0 L811.7,598.3 L813.6,597.5 L815.5,597.3 L817.0,597.8 L820.0,599.5 L822.0,595.9 L823.7,595.8 L825.4,596.9 L827.0,595.6 L829.2,597.2 L831.4,598.7 L835.0,599.0 L836.7,598.5 L838.2,596.6 L839.7,595.7 L843.4,595.5 L845.5,596.9 L847.3,596.3 L849.2,597.5 L851.0,598.4 L852.7,599.1 L856.2,598.3 L858.0,600.0 L859.8,600.8 L861.6,599.3 L863.4,598.4 L865.2,598.7 L866.9,598.2 L868.6,598.9 L870.1,599.1 L871.6,600.7 L873.1,600.5 L874.6,600.1 L876.2,598.7 L877.8,599.4 L879.4,599.4 L881.0,598.6 L882.5,598.3 L884.2,596.8 L885.8,595.9 L887.7,596.0 L891.5,599.9 L893.5,600.5 L895.5,601.6 L897.0,600.5 L898.5,598.0 L902.0,596.3 L906.0,597.5 L908.0,597.0 L909.5,594.8 L911.0,594.0 L912.5,593.9 L914.1,591.5 L915.5,592.9 L917.0,595.0 L918.5,597.0 L920.0,598.0 L921.5,596.3 L923.0,596.0 L924.5,594.1 L926.1,594.0 L927.5,595.1 L929.0,597.0 L930.5,597.1 L932.0,599.5 L934.0,598.5 L935.3,599.7 L936.7,599.9 L938.8,598.3 L940.6,597.2 L942.5,596.9 L943.8,597.3 L945.1,599.7 L946.5,599.7 L948.0,598.8 L949.2,599.0 L950.4,599.5 L952.5,599.0" fill="none" stroke="#8c1212" stroke-width="1.2" stroke-linejoin="round"/>
<path d="M115.5,604.0 L116.9,604.0 L118.4,604.6 L119.7,603.8 L122.5,604.3 L124.0,604.9 L125.3,604.7 L126.6,604.8 L128.8,603.7 L130.0,604.5 L131.2,604.4 L133.2,605.1 L135.3,604.3 L137.2,605.4 L138.7,605.4 L140.2,605.7 L141.6,604.6 L144.1,603.9 L147.3,605.4 L148.5,605.1 L149.7,604.3 L151.3,603.6 L152.8,603.7 L154.4,604.3 L157.4,603.8 L160.0,604.2 L161.3,603.8 L163.2,604.9 L165.4,605.3 L167.5,605.8 L170.7,605.6 L172.3,604.9 L173.8,605.2 L175.2,604.5 L176.7,604.2 L178.0,605.1 L179.3,605.0 L181.4,605.6 L183.0,604.9 L184.6,604.9 L187.0,604.6 L189.4,605.6 L191.9,604.1 L193.8,604.8 L195.5,604.4 L198.5,604.8 L201.3,604.5 L202.8,604.1 L205.5,604.5 L208.3,603.9 L210.4,604.0 L212.0,603.6 L213.7,604.0 L215.1,603.9 L216.4,604.0 L218.4,603.5 L220.0,603.9 L222.7,605.2 L223.9,605.0 L225.3,605.4 L226.8,605.5 L230.1,604.8 L231.8,604.9 L233.5,605.6 L234.8,605.3 L236.2,605.8 L237.5,605.0 L239.9,604.7 L241.0,605.5 L243.1,604.2 L244.6,604.4 L246.1,604.9 L247.4,604.8 L248.7,605.4 L250.6,604.5 L251.7,604.3 L252.9,604.4 L255.0,603.7 L256.1,604.4 L257.3,605.0 L259.0,605.3 L260.7,605.2 L262.0,605.0 L263.2,604.4 L264.9,604.2 L266.6,604.6 L268.0,604.3 L269.5,603.7 L271.7,604.8 L273.2,605.4 L274.7,605.4 L276.1,604.9 L277.5,604.8 L278.8,605.4 L280.2,605.4 L281.4,605.7 L282.5,605.0 L283.6,605.6 L284.8,605.3 L286.6,605.3 L288.2,604.9 L289.9,604.0 L292.6,604.6 L294.2,604.3 L295.8,604.8 L296.9,604.3 L298.0,604.5 L299.7,605.2 L301.3,605.3 L303.4,604.1 L305.3,603.5 L306.6,603.8 L307.8,603.4 L309.4,603.5 L311.0,604.4 L314.2,604.7 L315.4,604.6 L317.5,603.9 L321.1,604.1 L324.5,604.9 L326.0,604.9 L327.6,605.3 L329.2,604.7 L332.0,603.3 L334.7,603.5 L336.2,603.5 L337.7,604.0 L339.2,603.6 L345.1,604.1 L346.3,605.1 L348.5,604.8 L349.9,604.9 L351.2,605.6 L353.2,605.2 L354.5,605.4 L357.5,605.3 L359.1,604.6 L360.6,604.3 L362.1,604.6 L363.4,604.7 L364.7,603.8 L366.3,604.0 L367.8,605.2 L369.0,605.0 L371.9,603.8 L373.6,603.8 L375.5,603.4 L377.1,603.6 L378.6,604.6 L384.2,605.0 L387.9,604.5 L390.1,603.7 L392.6,603.7 L394.0,604.7 L395.5,604.8 L397.0,604.2 L398.5,604.6 L400.0,603.8 L401.8,603.1 L409.1,602.3 L410.6,601.2 L412.2,601.0 L413.7,600.0 L415.2,595.8 L416.7,591.7 L418.2,585.9 L419.8,579.5 L422.8,564.3 L424.4,555.6 L425.9,546.0 L428.9,523.2 L430.0,510.6 L431.2,498.9 L432.7,486.7 L433.9,484.7 L435.0,482.2 L436.5,480.0 L438.0,476.8 L439.8,474.9 L441.4,479.1 L442.6,492.8 L444.1,512.6 L445.2,522.0 L447.5,539.5 L448.7,549.1 L450.2,558.5 L451.7,567.3 L453.2,575.2 L454.8,582.5 L457.8,594.7 L459.3,596.7 L460.9,599.0 L462.4,601.6 L464.4,602.4 L466.4,603.5 L468.4,603.8 L470.3,604.4 L472.3,603.6 L474.2,603.8 L476.1,604.2 L478.1,604.9 L480.0,604.6 L482.0,605.4 L484.0,604.0 L485.7,603.9 L487.4,603.7 L489.4,604.4 L490.6,604.7 L491.8,605.2 L494.0,605.7 L495.1,605.2 L497.9,605.5 L499.6,605.2 L502.8,605.2 L504.7,605.6 L506.1,605.4 L507.5,604.6 L509.6,605.2 L510.9,605.4 L512.3,605.7 L513.8,605.6 L516.7,606.1 L519.4,604.9 L520.8,604.5 L522.5,604.4 L524.1,604.1 L525.6,604.8 L527.2,605.2 L528.6,604.4 L530.0,604.1 L531.5,604.2 L533.1,604.7 L535.2,603.7 L536.5,603.3 L537.9,603.2 L539.5,604.0 L541.1,603.9 L542.4,604.5 L543.7,604.1 L545.2,604.9 L546.6,605.1 L547.7,604.6 L548.9,604.5 L550.3,603.8 L553.0,604.4 L554.4,604.4 L555.6,604.2 L556.9,604.8 L558.2,604.0 L559.5,603.8 L561.2,604.2 L564.1,603.8 L565.4,604.1 L567.0,604.9 L568.7,605.2 L571.3,604.6 L573.2,605.3 L575.3,605.0 L576.5,604.3 L578.9,604.4 L580.1,603.8 L582.0,604.3 L587.1,605.0 L589.0,604.5 L590.6,605.3 L592.2,605.3 L593.4,605.2 L594.7,605.5 L596.0,605.5 L597.3,605.0 L598.7,605.5 L600.0,605.7 L601.5,605.2 L603.0,605.0 L607.1,605.1 L609.9,605.4 L613.1,604.8 L614.7,603.8 L616.0,604.3 L617.3,604.5 L619.7,603.8 L621.1,604.4 L622.6,604.1 L623.7,603.6 L624.8,603.4 L626.5,603.4 L628.1,603.7 L630.1,603.6 L631.3,604.4 L632.4,604.8 L634.5,604.2 L636.4,604.3 L638.6,604.1 L640.1,604.1 L641.6,605.1 L643.1,604.2 L644.7,603.9 L645.9,604.1 L647.1,604.9 L649.0,604.1 L650.2,603.9 L651.5,604.1 L653.0,604.7 L654.5,604.7 L655.8,604.3 L659.3,603.9 L663.2,605.3 L664.7,604.5 L666.1,604.0 L668.7,604.5 L670.6,604.5 L672.4,605.0 L674.2,605.0 L675.9,605.4 L677.6,605.4 L678.8,604.6 L682.2,604.4 L684.3,604.0 L686.5,604.7 L688.6,604.2 L693.0,603.9 L695.1,604.0 L697.3,603.8 L699.5,601.2 L701.6,599.5 L703.4,599.7 L705.2,599.2 L707.0,599.1 L708.8,598.8 L711.0,597.9 L713.1,597.1 L715.3,595.7 L717.5,595.2 L719.4,592.7 L721.4,589.4 L723.3,586.5 L726.1,583.3 L727.8,582.8 L729.5,583.3 L731.2,583.3 L733.0,580.0 L734.8,576.4 L736.2,572.2 L737.7,567.8 L739.2,563.7 L740.6,560.6 L742.0,553.6 L743.4,546.1 L744.8,542.6 L746.3,539.6 L747.6,538.7 L748.9,538.2 L750.1,539.6 L751.4,541.8 L754.2,549.7 L756.0,550.7 L757.9,551.9 L760.0,557.7 L761.1,562.6 L762.2,567.8 L763.7,572.6 L765.1,577.9 L766.5,583.3 L767.9,589.4 L772.3,599.5 L774.1,601.4 L775.9,603.8 L779.2,602.5 L780.9,601.6 L782.8,602.9 L784.8,603.6 L786.7,604.5 L788.0,605.6 L789.6,605.5 L791.3,605.9 L793.3,605.5 L794.5,604.9 L795.7,605.2 L797.8,604.4 L799.0,604.0 L801.5,604.1 L802.8,603.5 L804.8,604.6 L806.0,604.9 L807.2,604.8 L808.7,604.2 L810.2,604.5 L812.1,605.2 L813.5,605.4 L816.2,605.1 L817.6,605.9 L820.0,605.8 L821.2,605.1 L822.4,605.4 L823.8,604.6 L827.2,604.7 L828.7,604.3 L830.2,604.9 L831.4,604.9 L832.7,605.1 L834.8,604.3 L835.9,604.3 L837.1,605.2 L839.2,604.2 L841.2,603.7 L842.3,604.5 L843.5,604.4 L845.0,604.1 L847.8,604.3 L848.9,604.2 L850.1,604.2 L851.2,605.1 L853.9,604.4 L857.4,605.6 L858.8,605.6 L861.0,605.3 L862.6,605.6 L864.3,605.2 L865.9,604.5 L867.6,604.3 L869.2,603.7 L872.1,603.8 L873.4,603.4 L874.9,604.4 L876.5,604.5 L878.1,604.5 L879.8,605.3 L881.5,605.3 L883.1,605.1 L884.8,605.6 L886.5,605.4 L887.6,605.9 L888.8,606.0 L890.0,605.0 L891.2,604.7 L893.2,604.7 L895.3,605.6 L896.9,604.8 L898.6,604.6 L904.2,605.1 L905.8,604.4 L907.0,604.5 L908.2,605.4 L909.5,604.8 L910.7,604.8 L914.0,605.4 L915.6,605.1 L918.4,605.6 L921.2,605.3 L922.8,605.4 L924.9,604.7 L926.2,605.4 L927.4,605.3 L928.7,605.5 L933.2,604.2 L934.6,604.5 L936.0,604.2 L937.4,604.2 L938.7,605.2 L939.8,605.7 L940.9,605.8 L945.5,604.6 L946.9,604.3 L948.2,604.6 L949.5,604.4 L950.7,605.1 L952.5,604.8" fill="none" stroke="#0000ff" stroke-width="1.2" stroke-linejoin="round"/>
<path d="M115.5,597.5 L116.8,599.2 L118.0,599.5 L120.0,598.8 L121.4,599.3 L122.8,599.6 L124.8,598.5 L126.8,598.9 L128.1,599.8 L129.5,599.0 L131.6,599.2 L133.7,598.7 L135.7,599.5 L137.8,600.5 L139.2,601.6 L140.6,600.7 L142.4,601.2 L144.1,600.3 L145.7,599.2 L147.2,598.5 L148.8,599.0 L150.1,600.1 L151.3,601.7 L153.0,600.2 L154.7,599.8 L156.3,599.1 L158.0,599.8 L159.5,599.8 L161.0,598.7 L162.5,599.2 L164.0,600.8 L165.5,600.4 L169.2,602.2 L171.4,600.7 L173.6,600.6 L175.0,601.4 L176.5,601.9 L178.1,601.3 L179.6,599.8 L181.2,599.3 L183.2,601.1 L185.3,601.5 L187.3,600.4 L189.2,599.9 L191.3,601.6 L193.5,601.2 L194.9,600.7 L196.4,601.3 L197.9,600.0 L199.4,599.1 L201.0,599.4 L202.6,599.5 L204.3,599.8 L206.0,600.8 L208.2,601.1 L210.3,602.4 L211.9,603.5 L213.4,602.2 L215.0,603.1 L217.1,602.8 L219.2,600.7 L220.6,600.8 L222.1,601.1 L223.9,601.0 L225.8,601.4 L227.2,601.1 L228.5,599.7 L230.0,599.5 L231.5,601.3 L233.0,600.7 L235.0,599.0 L237.0,599.1 L238.7,601.4 L240.4,601.6 L242.4,603.3 L245.8,602.4 L247.3,601.2 L249.4,600.7 L251.5,600.6 L253.7,600.4 L255.8,600.8 L257.2,600.6 L258.5,599.2 L260.1,599.8 L261.6,599.5 L263.2,598.7 L264.7,599.5 L266.1,599.3 L270.2,601.5 L272.0,602.3 L273.7,600.9 L278.0,599.9 L279.6,600.1 L281.3,600.8 L283.2,599.2 L285.2,598.9 L286.6,598.2 L287.9,598.7 L290.0,598.6 L292.0,600.6 L293.6,601.2 L295.1,602.2 L296.6,601.6 L298.2,602.1 L299.7,601.9 L301.3,602.4 L302.8,600.6 L304.4,600.5 L305.6,601.4 L306.9,600.1 L308.5,599.8 L310.0,599.2 L311.3,598.5 L312.7,598.7 L314.9,598.1 L317.0,598.3 L319.0,597.8 L322.4,599.2 L323.8,601.1 L325.4,601.1 L327.0,599.6 L328.7,600.4 L330.5,601.0 L332.3,601.0 L334.1,602.1 L335.8,602.5 L337.5,601.2 L339.6,601.5 L341.6,600.7 L343.6,601.4 L345.7,600.5 L347.1,599.6 L348.5,599.2 L350.6,601.2 L354.2,600.8 L355.7,601.9 L357.3,601.5 L359.1,600.2 L361.0,599.6 L363.2,599.8 L365.4,598.8 L367.1,597.7 L368.8,598.6 L370.5,598.0 L373.9,600.5 L375.6,600.9 L377.5,601.1 L379.3,599.7 L381.4,600.4 L383.5,601.2 L385.7,601.0 L387.8,599.1 L389.7,599.2 L391.7,601.5 L393.2,600.5 L394.7,599.8 L398.2,599.4 L400.0,600.0 L401.8,599.2 L403.6,599.4 L405.5,596.9 L407.3,597.6 L411.1,594.7 L413.2,592.5 L415.2,591.7 L417.2,590.2 L419.3,587.3 L421.3,584.1 L422.8,578.4 L424.4,572.3 L425.9,565.8 L427.4,560.5 L428.9,553.7 L430.4,549.1 L432.3,543.0 L434.2,535.4 L435.8,531.5 L437.3,528.6 L438.8,531.5 L440.3,533.9 L441.8,539.6 L443.3,544.5 L447.1,561.3 L448.6,566.9 L450.2,572.2 L451.7,576.5 L453.2,581.8 L454.8,586.4 L456.3,590.2 L457.8,593.6 L459.3,596.3 L460.8,597.8 L462.8,599.4 L464.9,599.9 L466.9,600.0 L468.9,599.4 L471.0,600.1 L473.0,599.3 L474.8,600.6 L476.5,600.6 L478.2,600.2 L480.0,600.8 L482.0,599.0 L483.5,599.0 L485.0,599.3 L486.5,600.3 L488.0,600.9 L489.4,600.1 L491.5,600.2 L493.5,598.9 L495.3,600.2 L497.1,601.3 L499.0,601.0 L500.8,602.5 L502.3,602.7 L503.7,601.5 L505.2,600.8 L506.5,601.0 L507.7,601.6 L509.1,601.2 L510.5,599.1 L514.6,601.4 L516.8,601.0 L519.0,602.6 L520.4,601.2 L521.9,599.7 L523.3,601.7 L524.7,602.1 L526.1,600.4 L528.7,599.5 L530.0,598.6 L531.3,599.2 L532.6,599.4 L534.1,599.0 L537.0,599.8 L538.5,599.2 L540.0,599.0 L542.2,598.9 L544.3,600.9 L546.2,600.6 L548.0,601.0 L550.1,600.8 L552.2,601.1 L553.7,599.7 L556.8,600.7 L558.3,600.1 L559.8,601.1 L561.4,599.4 L562.9,600.1 L564.3,600.5 L565.6,600.4 L567.8,599.3 L569.9,600.3 L571.9,600.6 L573.9,599.0 L575.3,600.2 L576.6,600.6 L577.9,601.3 L579.2,599.9 L580.9,600.4 L582.6,599.2 L583.9,599.2 L585.2,598.3 L586.7,597.9 L588.2,598.9 L589.7,600.5 L591.3,600.4 L592.8,599.9 L594.3,600.5 L595.8,600.5 L597.4,601.1 L598.9,601.9 L600.8,602.0 L602.7,601.2 L604.6,599.8 L608.0,599.8 L609.7,601.1 L611.2,602.7 L612.6,602.1 L616.3,601.5 L618.4,600.7 L620.6,601.5 L622.0,599.7 L623.4,600.0 L624.6,598.6 L625.9,598.6 L627.4,599.4 L628.9,600.4 L630.5,600.3 L632.0,601.7 L633.5,601.1 L635.1,601.5 L636.7,601.0 L638.3,602.7 L639.8,603.0 L641.3,600.8 L642.8,601.2 L644.1,601.3 L645.5,600.1 L648.4,599.9 L649.7,601.5 L651.1,601.2 L652.6,601.6 L654.2,599.4 L655.7,599.7 L657.8,600.8 L659.9,600.6 L663.5,602.1 L665.1,601.7 L666.8,602.3 L668.1,603.4 L669.4,603.0 L670.9,601.1 L672.3,599.6 L673.8,600.1 L675.3,599.8 L676.7,601.1 L678.4,601.2 L680.0,602.4 L682.2,602.9 L684.4,601.6 L688.7,602.4 L690.6,601.5 L692.5,599.4 L694.4,598.0 L696.5,598.8 L700.6,600.2 L702.6,600.7 L704.5,600.2 L706.4,599.9 L708.4,598.2 L710.3,598.0 L712.2,598.0 L714.1,596.0 L716.0,596.6 L717.5,592.6 L718.9,590.1 L721.1,589.5 L723.3,590.8 L725.5,589.6 L727.6,588.7 L729.8,588.5 L731.9,586.5 L733.3,585.7 L734.8,583.6 L736.2,581.8 L737.7,578.6 L739.2,580.6 L740.6,580.7 L742.0,576.9 L743.4,572.1 L744.8,570.3 L746.3,567.0 L747.4,562.5 L748.5,557.7 L749.9,552.6 L751.4,557.7 L753.5,567.8 L755.0,573.2 L756.4,577.9 L757.5,579.3 L758.6,582.9 L760.4,584.7 L764.4,591.9 L766.5,598.0 L768.6,598.9 L770.8,600.9 L772.3,601.7 L773.7,601.6 L775.2,602.4 L777.1,602.9 L779.0,602.3 L780.9,600.9 L783.1,601.1 L785.2,600.8 L787.4,601.9 L789.6,602.4 L791.5,602.2 L793.4,602.2 L795.3,600.9 L798.9,599.9 L800.7,599.9 L802.5,600.2 L804.3,599.5 L808.0,599.1 L809.8,599.5 L811.8,598.1 L813.9,599.4 L815.9,597.9 L818.0,597.5 L820.0,598.0 L822.0,600.7 L825.9,601.7 L827.4,601.0 L829.0,601.4 L830.5,601.1 L832.0,601.4 L833.4,602.3 L836.4,601.6 L838.3,601.6 L840.2,600.8 L841.8,601.0 L844.8,600.7 L846.6,601.0 L848.3,602.2 L850.3,601.6 L852.2,600.3 L853.8,600.6 L855.4,600.3 L856.7,601.3 L858.0,600.8 L860.1,601.3 L862.1,600.3 L864.3,601.0 L866.5,602.0 L868.3,601.7 L870.2,601.6 L871.6,601.4 L873.0,599.2 L874.5,599.3 L876.1,600.1 L877.6,599.2 L880.6,601.5 L882.7,600.9 L884.7,599.4 L886.3,600.2 L889.5,598.1 L892.9,598.0 L894.7,598.9 L896.4,599.1 L898.1,598.7 L899.5,597.5 L900.8,598.1 L902.3,599.8 L903.8,600.0 L905.2,600.5 L907.1,599.0 L909.0,599.0 L910.4,599.6 L911.8,598.5 L913.4,597.9 L918.1,598.5 L919.6,599.2 L921.1,600.3 L923.0,600.2 L925.0,598.0 L926.5,595.8 L928.0,595.0 L929.5,594.8 L931.0,594.0 L933.0,595.4 L935.0,597.0 L936.7,597.2 L938.3,598.7 L940.0,600.5 L942.0,600.4 L943.4,601.1 L946.3,601.3 L948.0,601.7 L949.2,600.9 L950.3,602.1 L952.5,600.5" fill="none" stroke="#ff17ff" stroke-width="1.2" stroke-linejoin="round"/>
<path d="M115.5,605.5 L116.8,605.9 L118.2,606.1 L119.5,605.8 L120.7,605.8 L122.1,605.3 L123.5,605.3 L124.8,605.6 L126.1,605.6 L127.6,605.2 L129.2,605.1 L130.3,604.7 L133.0,605.0 L136.4,606.2 L138.1,605.7 L139.7,606.0 L141.1,606.1 L142.5,605.4 L144.4,605.5 L149.7,604.7 L151.0,605.2 L152.6,605.2 L154.2,605.4 L155.6,605.4 L157.0,605.5 L159.8,605.5 L160.9,606.2 L162.1,606.2 L163.8,605.9 L165.4,606.3 L168.4,605.7 L170.6,605.4 L173.7,606.0 L174.9,606.1 L176.1,606.1 L177.3,606.3 L178.9,605.7 L180.5,605.3 L183.9,606.3 L185.2,606.3 L186.4,605.7 L187.6,605.4 L189.0,605.5 L190.4,605.9 L191.6,605.8 L192.7,605.2 L193.8,605.9 L195.0,606.0 L196.5,605.5 L198.0,605.3 L199.1,605.5 L200.2,605.0 L202.1,605.7 L204.2,605.7 L205.5,605.3 L208.2,605.3 L209.7,605.0 L211.1,605.3 L213.8,604.5 L215.0,604.9 L216.1,605.1 L217.3,605.9 L218.8,605.6 L220.3,605.5 L221.9,605.6 L223.5,605.2 L224.7,605.9 L226.0,605.9 L228.8,605.2 L230.5,605.4 L232.1,605.1 L234.4,605.7 L238.6,605.0 L240.0,605.4 L241.4,605.0 L244.1,605.2 L245.4,605.4 L246.6,606.0 L247.9,606.0 L252.4,605.3 L254.5,606.0 L256.0,605.6 L257.6,605.5 L259.7,605.8 L261.3,605.3 L263.0,605.3 L266.3,605.9 L267.6,606.0 L271.0,605.1 L272.7,605.0 L274.3,605.0 L275.8,604.7 L277.2,605.0 L281.5,605.6 L282.6,605.1 L285.6,604.9 L287.7,605.3 L290.9,605.6 L292.0,606.0 L293.2,606.1 L295.3,605.2 L296.4,605.0 L297.5,605.4 L299.4,605.1 L300.6,605.6 L303.9,605.4 L307.1,606.1 L308.5,605.8 L309.9,606.1 L311.3,605.4 L312.7,605.4 L314.5,604.9 L317.8,605.5 L319.4,605.0 L321.1,605.0 L322.5,605.4 L326.9,605.2 L328.5,604.8 L331.6,604.9 L332.9,605.6 L336.1,605.9 L337.6,606.1 L339.1,606.1 L340.7,605.5 L342.3,605.6 L343.7,605.5 L345.2,606.1 L346.8,606.1 L348.4,605.7 L349.9,605.6 L351.4,606.1 L352.8,606.3 L355.3,605.6 L356.6,605.9 L357.9,605.4 L359.3,605.2 L360.7,605.8 L363.7,606.3 L366.5,605.8 L369.1,606.3 L370.5,605.8 L373.6,605.2 L375.1,605.3 L376.6,604.8 L378.0,604.8 L381.5,605.7 L382.8,605.6 L385.8,605.9 L387.4,605.4 L389.2,605.3 L390.7,605.4 L392.1,605.1 L394.2,605.9 L397.0,605.6 L398.5,604.6 L400.0,603.8 L401.8,603.3 L403.6,603.2 L405.5,603.7 L407.3,603.2 L409.1,603.1 L411.1,602.2 L413.2,600.9 L415.2,599.3 L417.2,594.9 L419.3,591.1 L421.3,587.1 L422.8,580.7 L424.4,573.5 L425.9,567.3 L427.4,561.0 L428.9,555.2 L430.4,549.1 L432.3,542.5 L434.2,535.4 L435.5,532.4 L436.8,529.6 L438.1,532.1 L439.5,533.9 L441.1,539.3 L442.6,544.5 L444.1,550.7 L445.6,556.5 L447.1,562.8 L448.6,568.1 L450.2,573.7 L451.7,579.5 L453.2,583.7 L454.8,588.7 L456.3,593.2 L457.8,596.0 L459.3,598.0 L460.8,600.8 L462.8,601.9 L464.9,602.7 L466.9,603.8 L468.6,604.1 L472.0,605.5 L474.0,605.6 L475.4,605.3 L476.8,605.8 L478.9,605.1 L480.1,605.0 L482.8,605.2 L484.4,605.6 L487.1,605.7 L488.6,605.6 L491.2,604.8 L492.5,605.0 L494.1,604.5 L495.7,604.8 L497.3,604.8 L498.8,604.7 L500.3,605.0 L502.9,605.0 L504.2,605.8 L506.0,605.1 L507.6,604.9 L511.2,606.1 L512.9,605.5 L517.0,605.0 L521.4,605.8 L523.3,605.3 L526.4,605.3 L527.6,605.1 L528.9,605.6 L530.1,605.4 L531.4,605.5 L533.3,605.8 L534.9,605.7 L536.6,606.3 L538.0,605.6 L540.7,606.0 L541.9,605.9 L543.3,605.3 L546.9,605.3 L548.2,605.7 L549.5,605.8 L550.8,605.3 L552.1,605.1 L553.7,605.4 L555.2,605.3 L556.5,605.5 L557.9,605.1 L559.1,605.0 L561.9,605.4 L564.7,604.6 L566.1,604.9 L567.5,605.0 L569.0,604.7 L570.1,605.2 L574.0,604.8 L577.7,604.9 L578.8,605.2 L580.5,605.0 L582.1,605.4 L583.8,605.0 L585.4,605.1 L587.1,605.5 L588.7,605.2 L590.8,605.7 L594.1,605.1 L595.2,605.1 L596.3,605.7 L597.5,605.1 L598.7,605.3 L600.5,604.9 L601.9,605.0 L603.3,605.9 L606.7,605.7 L610.0,605.3 L611.6,605.9 L613.0,605.9 L614.4,605.4 L615.7,605.3 L617.0,605.5 L618.4,605.5 L619.8,605.3 L623.1,605.9 L625.2,605.5 L626.8,605.6 L628.4,605.3 L630.0,605.5 L631.7,605.5 L634.6,605.8 L636.7,605.4 L637.8,605.7 L638.9,605.7 L640.4,605.1 L643.4,605.5 L645.0,605.3 L648.9,605.4 L650.6,605.6 L652.0,606.1 L655.0,606.3 L656.7,606.2 L657.9,606.3 L659.2,606.0 L660.8,606.3 L662.4,606.1 L663.8,605.5 L666.3,605.7 L667.5,605.9 L668.9,605.2 L670.2,605.1 L671.7,605.7 L674.7,606.2 L676.2,606.2 L678.1,605.5 L680.0,605.2 L684.2,605.2 L686.2,604.8 L688.3,605.1 L690.4,604.6 L696.6,604.4 L698.7,604.5 L702.4,603.4 L704.2,603.3 L707.8,601.6 L709.6,600.6 L711.4,599.9 L713.2,599.5 L717.5,600.2 L719.6,599.0 L721.8,597.3 L724.0,597.0 L726.1,595.9 L730.5,598.8 L732.6,596.1 L734.8,593.7 L736.6,591.2 L738.4,589.4 L742.0,577.5 L743.4,572.1 L744.8,570.4 L746.3,569.2 L747.8,567.1 L749.2,565.6 L750.6,562.0 L752.1,567.8 L753.5,571.0 L755.0,573.5 L756.8,576.1 L758.6,579.3 L760.4,582.8 L762.2,586.5 L764.4,591.3 L766.5,596.6 L768.6,599.5 L770.8,603.1 L773.7,604.2 L775.2,605.0 L777.0,605.3 L778.4,605.7 L781.5,605.5 L785.2,605.0 L787.4,605.6 L789.4,605.6 L791.6,605.4 L792.8,605.9 L794.1,605.9 L795.4,605.6 L797.9,604.8 L799.1,605.0 L800.7,605.0 L802.3,605.7 L803.8,606.1 L808.3,606.3 L809.8,605.7 L814.5,605.6 L816.0,605.4 L817.5,605.7 L818.8,605.4 L820.0,605.5 L821.3,605.0 L824.5,605.9 L827.6,606.3 L829.0,606.3 L833.4,605.3 L834.9,605.7 L838.4,605.1 L839.7,605.3 L841.1,605.1 L842.3,605.7 L843.6,605.5 L844.8,604.9 L846.0,605.1 L850.8,605.0 L852.0,604.7 L854.6,605.1 L856.0,605.8 L857.2,606.0 L858.5,606.0 L860.1,605.4 L861.7,605.2 L863.8,605.8 L865.3,606.0 L869.0,605.6 L872.1,606.1 L873.7,605.6 L875.2,605.5 L878.4,605.4 L879.8,605.5 L881.3,605.1 L883.0,605.6 L886.1,605.5 L887.6,605.2 L889.0,605.1 L890.4,605.5 L891.7,605.1 L894.6,605.6 L896.1,605.3 L897.2,605.5 L898.4,605.1 L899.8,604.8 L903.4,604.7 L904.8,605.3 L907.6,605.3 L910.2,604.6 L911.4,605.1 L913.4,604.8 L915.1,605.1 L916.8,604.8 L917.9,604.6 L919.0,604.9 L920.4,605.0 L921.8,604.8 L925.9,605.1 L927.5,604.8 L928.6,605.3 L931.5,605.3 L935.7,605.7 L936.8,605.7 L938.0,605.1 L939.3,605.1 L940.6,605.9 L942.1,605.5 L945.0,605.3 L946.4,606.0 L947.6,606.3 L948.7,605.9 L951.0,605.4 L952.5,605.6" fill="none" stroke="#333333" stroke-width="1.3" stroke-linejoin="round"/>
<path d="M116.8,827.9 L116.8,812.0 L119.3,812.3 L122.3,814.0 L125.8,811.7 L127.3,811.2 L129.3,811.6 L131.3,809.3 L131.8,809.0 L133.3,808.8 L133.8,808.8 L137.8,812.8 L138.3,813.0 L139.3,812.4 L139.8,811.9 L140.8,810.5 L141.3,810.4 L143.3,811.4 L145.3,811.6 L146.8,810.3 L148.3,810.1 L150.3,808.9 L152.3,808.7 L154.3,807.6 L154.8,807.1 L156.8,803.7 L158.8,803.2 L160.3,801.3 L160.8,800.8 L162.8,801.5 L166.3,802.1 L174.8,808.7 L176.8,811.3 L178.3,812.3 L178.8,813.3 L179.8,815.8 L180.3,815.4 L181.8,813.2 L182.3,812.6 L184.3,811.6 L192.8,808.7 L195.3,811.2 L195.8,811.5 L198.3,809.7 L198.8,809.3 L199.8,807.8 L200.3,807.5 L202.3,809.5 L204.3,808.7 L206.3,806.0 L208.3,805.0 L209.8,803.4 L210.3,803.0 L212.3,803.5 L213.8,804.4 L214.3,804.9 L215.8,807.2 L216.3,806.9 L217.8,805.4 L218.3,805.2 L219.8,805.1 L220.3,805.2 L221.3,806.5 L221.8,807.3 L222.8,809.7 L223.3,810.7 L224.3,811.9 L224.8,812.2 L226.8,811.7 L228.8,808.8 L229.3,808.8 L230.8,809.3 L232.8,811.3 L234.8,811.6 L238.3,809.9 L240.3,810.2 L241.8,809.3 L242.3,809.1 L243.8,810.4 L244.3,810.2 L245.8,808.2 L249.3,809.3 L251.3,810.8 L251.8,810.8 L253.3,810.2 L254.8,808.8 L255.8,808.2 L257.3,808.1 L258.3,807.3 L258.8,807.5 L259.8,808.4 L261.3,807.4 L262.8,809.7 L263.8,811.4 L265.8,812.7 L267.3,812.9 L268.8,810.9 L269.8,811.1 L270.3,811.0 L271.3,810.5 L273.3,812.5 L273.8,812.8 L274.8,812.9 L275.8,813.3 L277.3,811.4 L278.3,808.9 L278.8,808.0 L280.8,809.0 L282.3,808.6 L283.3,807.8 L283.8,807.8 L284.8,808.8 L285.8,808.4 L286.3,808.4 L288.8,811.5 L289.3,811.5 L290.3,811.2 L291.8,808.4 L292.8,807.9 L293.3,807.8 L294.3,808.7 L294.8,808.9 L298.8,809.6 L300.3,812.2 L300.8,812.1 L301.8,811.7 L303.3,812.3 L304.8,811.2 L305.8,811.0 L306.3,811.1 L307.8,812.6 L308.3,812.5 L308.8,812.0 L309.3,811.2 L310.3,808.0 L310.8,808.1 L311.3,808.5 L311.8,808.7 L312.3,808.6 L312.8,808.7 L314.3,811.3 L314.8,812.0 L316.3,812.6 L316.8,812.3 L317.8,811.1 L318.8,809.0 L319.3,808.7 L320.8,809.0 L321.3,809.2 L322.8,810.7 L324.3,811.6 L326.8,813.6 L327.3,813.6 L328.3,812.5 L328.8,812.3 L331.3,812.9 L331.8,812.7 L333.3,811.4 L335.3,810.3 L335.8,810.7 L336.8,811.8 L339.8,812.1 L340.8,811.2 L341.3,810.6 L342.3,808.3 L342.8,807.4 L343.8,806.7 L344.8,806.6 L345.8,808.5 L346.3,809.2 L347.3,809.2 L348.3,810.7 L348.8,811.3 L351.8,811.5 L352.8,811.2 L353.3,810.7 L354.3,808.7 L355.8,806.9 L358.3,806.5 L358.8,806.7 L359.8,808.8 L360.8,809.5 L361.3,810.0 L362.3,812.0 L362.8,811.8 L363.3,811.3 L363.8,811.2 L364.8,812.6 L366.8,810.6 L367.3,810.4 L368.8,810.6 L369.8,810.3 L370.3,810.6 L370.8,811.2 L371.3,811.4 L372.8,810.1 L374.3,809.6 L374.8,809.0 L375.8,807.3 L376.3,807.3 L377.3,809.1 L378.3,809.6 L378.8,809.7 L379.8,808.7 L380.3,808.8 L382.8,811.5 L383.8,812.4 L385.8,811.7 L387.3,811.8 L388.3,811.6 L388.8,811.0 L389.8,808.9 L390.8,807.5 L393.8,807.7 L394.8,808.2 L395.3,808.9 L396.3,811.4 L396.8,811.8 L397.8,811.8 L399.3,809.7 L400.8,810.5 L401.8,809.4 L402.3,809.0 L404.3,809.8 L405.3,809.5 L405.8,809.6 L406.8,810.6 L407.3,810.3 L407.8,809.6 L408.3,809.0 L409.3,809.4 L410.8,808.4 L412.3,808.6 L413.3,808.9 L413.8,808.3 L414.3,807.3 L414.8,806.5 L416.3,810.0 L416.8,810.7 L418.3,809.7 L418.8,809.6 L420.3,811.0 L420.8,810.4 L422.3,807.8 L422.8,808.0 L424.3,810.9 L424.8,811.3 L425.8,810.7 L426.3,809.8 L427.3,807.4 L430.3,806.4 L430.8,807.0 L431.3,807.7 L431.8,808.3 L432.8,808.8 L433.8,807.6 L434.3,807.1 L435.3,807.2 L435.8,807.1 L436.8,806.2 L437.3,806.3 L438.3,807.4 L439.8,808.5 L440.8,810.6 L441.3,811.4 L442.3,810.6 L442.8,809.7 L443.3,808.4 L443.8,807.4 L444.8,808.8 L445.3,809.1 L446.3,808.6 L446.8,809.3 L447.8,811.0 L449.3,810.9 L450.8,810.4 L451.3,810.7 L453.3,812.2 L454.8,812.6 L457.3,809.5 L458.8,808.1 L460.3,808.0 L461.8,809.6 L462.8,808.4 L463.3,807.9 L464.3,807.6 L464.8,808.2 L465.3,809.0 L465.8,809.4 L466.8,808.5 L468.8,811.8 L470.3,810.3 L471.8,810.1 L473.3,812.2 L473.8,812.2 L475.3,810.6 L476.3,810.7 L476.8,811.0 L477.8,811.9 L478.8,812.5 L479.3,812.6 L480.3,811.2 L480.8,811.0 L481.8,811.3 L482.8,812.6 L483.3,812.4 L484.3,811.5 L485.8,809.7 L486.8,809.6 L487.3,809.8 L488.3,811.7 L488.8,812.0 L489.8,811.0 L490.8,808.4 L491.3,808.7 L492.8,811.8 L494.3,812.0 L494.8,811.9 L496.3,809.4 L496.8,808.9 L498.3,810.8 L498.8,811.0 L501.8,808.6 L503.3,809.8 L504.8,807.1 L505.3,806.8 L506.3,806.6 L509.3,808.9 L509.8,809.0 L510.8,808.0 L511.3,807.9 L512.3,808.3 L514.3,807.4 L515.3,807.5 L515.8,808.4 L516.3,809.6 L516.8,810.6 L519.8,812.1 L520.8,810.9 L521.3,810.1 L522.3,808.3 L523.3,807.2 L524.3,806.7 L524.8,806.9 L525.8,808.3 L526.8,806.6 L527.3,806.2 L528.3,806.6 L530.3,805.9 L531.3,805.0 L531.8,805.1 L532.8,805.9 L533.8,805.9 L534.3,806.6 L534.8,807.5 L535.3,808.1 L537.3,807.4 L541.8,809.6 L542.3,809.7 L543.3,809.2 L543.8,809.2 L544.8,809.5 L546.3,810.8 L547.8,811.5 L548.8,811.1 L549.3,810.7 L550.3,808.1 L550.8,807.4 L551.3,807.2 L551.8,807.3 L552.8,809.0 L554.8,809.4 L555.8,809.3 L556.3,809.6 L557.3,810.9 L558.8,810.3 L560.3,809.3 L562.3,807.4 L565.8,804.9 L566.3,804.8 L567.8,807.9 L568.3,808.9 L568.8,809.4 L572.3,803.6 L572.8,803.4 L574.3,803.5 L574.8,803.0 L576.3,800.9 L576.8,800.6 L579.8,799.8 L580.3,800.1 L581.3,801.6 L581.8,801.7 L584.3,797.3 L584.8,796.7 L588.3,799.6 L589.3,801.8 L589.8,803.2 L590.8,806.7 L591.3,806.3 L592.8,803.4 L595.3,806.7 L596.8,809.1 L597.3,809.7 L598.8,810.7 L599.3,811.5 L600.8,814.3 L602.3,814.5 L602.8,814.2 L606.3,808.5 L606.8,808.3 L607.8,808.4 L609.3,809.5 L611.3,813.3 L612.8,814.7 L613.3,815.0 L614.8,813.4 L615.3,813.1 L616.8,812.6 L618.8,811.3 L620.8,811.7 L622.3,812.6 L622.8,812.3 L624.3,810.8 L625.8,808.7 L627.3,805.4 L627.8,805.5 L629.3,806.7 L629.8,806.9 L631.8,807.2 L633.3,808.0 L633.8,808.6 L635.3,811.5 L637.3,813.9 L639.3,810.5 L639.8,810.2 L641.3,809.7 L641.8,809.7 L643.3,810.0 L644.8,809.8 L648.3,807.1 L650.3,807.6 L651.8,807.7 L652.3,807.8 L654.3,809.0 L655.8,809.6 L657.3,811.5 L657.8,811.8 L659.3,809.4 L660.8,806.2 L661.3,805.6 L662.3,804.8 L662.8,804.7 L664.3,805.8 L665.8,807.5 L667.3,810.4 L667.8,810.2 L669.3,807.5 L670.8,804.0 L671.3,803.7 L672.8,804.9 L674.3,806.5 L675.8,806.7 L677.8,805.7 L679.8,807.5 L681.3,808.4 L681.8,808.6 L683.8,808.1 L687.8,805.7 L689.3,805.0 L691.3,805.1 L693.3,804.2 L693.8,803.8 L695.8,801.7 L697.8,798.8 L699.8,790.5 L701.8,783.0 L703.8,775.8 L704.3,774.7 L705.3,773.9 L705.8,773.6 L706.8,774.8 L707.3,776.1 L709.3,783.2 L709.8,784.5 L710.8,783.4 L711.8,784.4 L712.3,783.0 L713.3,777.6 L713.8,775.9 L714.3,775.6 L714.8,777.1 L715.3,779.2 L715.8,782.9 L716.8,792.5 L718.3,797.3 L719.8,801.6 L721.3,804.6 L721.8,804.7 L722.8,804.0 L723.3,804.4 L724.3,806.2 L724.8,806.8 L726.3,807.4 L726.8,807.1 L727.8,805.2 L729.3,802.1 L730.8,801.0 L732.3,800.5 L732.8,799.2 L734.8,791.3 L735.3,790.4 L737.3,787.7 L740.3,772.5 L740.8,769.2 L743.3,751.9 L743.8,747.8 L744.8,737.0 L745.8,725.8 L746.3,722.0 L749.3,702.2 L750.3,695.3 L750.8,692.1 L751.3,690.3 L751.8,688.9 L752.3,688.2 L752.8,688.9 L753.3,690.4 L753.8,692.5 L755.3,705.0 L755.8,709.9 L757.3,725.2 L757.8,730.5 L758.8,741.4 L759.8,752.8 L760.3,758.0 L761.3,767.1 L762.8,781.2 L763.8,790.9 L764.8,800.4 L765.8,807.0 L766.3,808.5 L766.8,808.0 L767.3,807.7 L769.3,810.7 L771.3,810.6 L773.3,812.8 L773.8,812.7 L775.3,811.3 L775.8,811.0 L777.3,811.1 L777.8,811.0 L779.8,808.2 L781.8,809.2 L783.8,812.0 L784.3,812.3 L785.8,812.2 L786.3,812.3 L787.8,813.1 L788.3,813.2 L789.8,812.9 L790.3,812.5 L791.8,810.6 L793.3,809.6 L794.8,806.7 L795.3,806.3 L796.3,807.3 L797.3,810.3 L797.8,810.8 L801.8,803.7 L802.3,804.3 L804.3,808.4 L804.8,808.1 L806.3,806.0 L806.8,805.5 L808.3,804.6 L808.8,804.5 L809.8,806.0 L810.3,806.0 L811.3,805.0 L812.3,803.1 L813.8,801.0 L814.8,799.1 L815.3,798.8 L816.3,799.3 L817.3,797.8 L817.8,796.1 L818.3,794.1 L818.8,795.9 L819.8,804.4 L820.3,807.8 L820.8,807.4 L823.8,801.4 L827.3,796.0 L829.3,793.7 L830.8,792.5 L832.8,779.7 L834.3,789.5 L834.8,790.7 L837.3,790.0 L837.8,790.0 L839.3,790.8 L840.8,792.3 L841.3,791.7 L843.8,785.3 L844.3,785.9 L845.8,791.4 L846.3,792.9 L847.3,795.2 L848.3,797.0 L848.8,796.7 L849.8,792.3 L850.8,787.6 L851.3,785.5 L852.8,782.8 L853.3,782.0 L853.8,781.8 L854.8,785.8 L856.3,792.5 L858.8,784.0 L860.3,780.3 L861.3,778.2 L861.8,778.1 L863.3,778.4 L864.8,778.0 L866.3,778.0 L866.8,778.3 L867.8,779.1 L868.8,779.6 L869.3,781.2 L870.8,788.7 L871.3,790.3 L873.3,780.4 L873.8,779.1 L875.8,781.4 L877.3,784.0 L878.3,785.5 L878.8,785.4 L880.3,784.6 L881.8,784.0 L884.3,786.5 L887.3,781.3 L887.8,780.2 L889.3,775.0 L889.8,775.3 L892.8,780.6 L896.3,771.4 L896.8,769.9 L899.3,761.2 L899.8,760.6 L900.8,762.9 L902.3,767.2 L903.8,769.3 L904.8,770.6 L906.8,775.3 L907.3,776.1 L908.8,772.3 L909.3,771.9 L910.8,771.4 L912.3,771.2 L915.3,767.5 L915.8,767.0 L918.8,767.0 L919.3,767.2 L920.3,768.2 L921.3,769.8 L921.8,771.1 L923.8,784.0 L924.3,786.5 L927.8,787.4 L931.3,787.0 L932.8,786.4 L935.8,783.4 L936.3,783.7 L938.3,790.3 L938.8,791.4 L939.8,789.3 L940.8,787.9 L941.3,787.4 L942.8,787.3 L944.8,785.9 L946.3,785.7 L948.8,783.5 L950.8,782.1 L952.3,780.6 L952.8,780.6 L952.8,827.9Z" fill="#f9f9f9" stroke="none"/>
<path d="M117.5,821.5 L119.3,821.7 L121.1,821.0 L124.7,820.6 L126.5,818.8 L128.0,818.9 L129.4,818.9 L130.9,820.3 L132.7,819.7 L134.5,817.6 L136.3,816.3 L138.1,816.0 L140.0,816.2 L141.9,816.6 L143.8,817.4 L145.7,816.6 L147.7,816.4 L149.6,815.2 L151.8,816.3 L153.9,818.8 L155.4,818.1 L156.8,817.0 L158.3,817.4 L160.4,816.5 L164.7,813.1 L166.5,816.7 L168.3,818.8 L170.5,816.7 L172.7,816.7 L174.1,818.3 L175.6,820.3 L177.5,820.8 L179.4,819.3 L181.3,818.8 L183.2,819.1 L185.2,821.6 L187.1,821.7 L188.9,822.1 L190.7,821.6 L192.5,822.0 L194.3,821.0 L196.2,820.8 L198.2,820.0 L200.1,818.1 L203.9,819.1 L205.8,821.0 L208.0,819.5 L210.2,818.8 L212.1,820.1 L214.0,819.8 L215.9,821.0 L217.8,820.7 L219.8,822.6 L221.7,822.4 L223.8,822.8 L226.0,823.7 L228.2,823.8 L230.3,823.2 L232.1,823.6 L233.9,822.8 L235.7,821.2 L237.5,821.7 L239.3,820.4 L241.2,820.6 L243.0,819.1 L244.8,819.6 L247.0,819.8 L249.1,817.8 L253.4,818.1 L256.0,821.5 L258.7,822.6 L259.8,821.4 L261.0,821.4 L262.5,821.1 L263.9,821.4 L265.1,820.7 L266.3,821.1 L267.5,821.1 L268.6,820.2 L270.0,820.8 L271.4,822.3 L272.9,823.4 L274.3,822.3 L275.5,822.8 L276.7,821.6 L278.7,822.4 L279.9,820.7 L281.0,821.2 L282.7,821.3 L284.3,820.8 L286.0,822.2 L287.7,821.6 L289.2,821.6 L292.8,822.5 L293.9,822.5 L297.0,820.0 L298.2,819.6 L299.4,819.1 L300.7,819.7 L301.9,821.7 L303.6,821.6 L307.2,820.9 L309.1,820.2 L310.5,820.6 L311.9,821.3 L313.8,821.4 L315.0,820.4 L316.3,821.1 L318.3,820.9 L320.3,821.9 L321.7,821.8 L323.1,822.1 L324.4,823.5 L325.6,823.4 L326.8,822.9 L328.0,821.3 L329.2,821.2 L330.4,822.9 L332.4,823.0 L334.1,824.3 L335.7,823.4 L337.0,822.5 L339.9,821.9 L341.5,822.6 L343.0,822.3 L344.5,820.8 L347.3,822.0 L349.5,820.7 L351.1,822.1 L352.6,821.4 L353.9,822.1 L355.1,821.4 L356.2,820.1 L357.3,820.6 L359.3,820.7 L361.3,822.6 L363.0,821.4 L364.7,822.3 L366.6,822.2 L368.7,821.4 L370.7,821.4 L372.6,820.7 L374.8,821.0 L376.5,820.9 L378.1,821.6 L379.6,821.7 L381.1,822.3 L382.5,822.4 L383.8,820.3 L385.7,819.7 L387.0,819.6 L390.0,820.8 L391.6,819.8 L393.6,821.2 L395.0,821.1 L396.4,819.8 L397.6,819.6 L398.7,820.5 L400.3,820.8 L401.8,822.1 L403.4,821.0 L406.7,822.7 L408.3,821.6 L409.4,821.0 L410.6,820.3 L412.1,821.1 L413.7,821.5 L415.1,821.3 L416.5,823.2 L417.9,822.0 L419.3,821.6 L422.2,823.0 L424.3,823.8 L425.5,821.6 L426.8,821.2 L428.1,821.9 L429.4,822.3 L430.7,821.1 L433.5,821.1 L435.0,819.9 L437.8,820.3 L439.2,820.9 L441.7,821.0 L442.9,820.2 L444.4,820.9 L446.0,820.8 L447.1,820.9 L448.2,821.5 L449.7,819.9 L451.3,820.1 L452.5,820.9 L453.8,819.6 L455.3,818.9 L456.8,819.1 L458.4,818.7 L459.9,820.6 L461.2,821.3 L462.6,821.2 L463.7,822.2 L464.8,821.2 L466.9,820.9 L468.3,821.4 L469.6,821.6 L470.8,821.6 L473.5,822.5 L475.0,822.7 L476.8,822.0 L478.9,822.9 L480.3,821.4 L481.7,821.9 L484.4,821.7 L486.6,823.1 L488.5,820.6 L489.6,821.2 L490.8,819.8 L492.0,821.1 L494.4,821.3 L495.6,823.0 L497.9,823.7 L499.6,823.8 L501.3,822.7 L502.8,822.5 L504.3,820.5 L506.0,820.6 L507.6,820.9 L508.8,821.6 L510.0,822.7 L513.5,819.5 L515.4,816.9 L517.0,821.0 L519.0,823.0 L521.1,823.8 L524.9,821.4 L526.5,821.4 L527.8,820.5 L529.1,820.3 L530.8,821.8 L532.4,822.7 L534.5,820.7 L535.8,820.6 L537.1,821.2 L538.6,820.8 L540.1,820.8 L541.5,819.5 L542.8,820.0 L545.0,819.3 L546.3,820.4 L547.7,820.7 L549.1,822.5 L550.5,822.7 L551.6,821.7 L552.8,821.5 L554.0,822.4 L555.3,823.1 L556.4,821.8 L557.6,821.5 L558.8,822.0 L560.0,823.2 L561.6,822.1 L563.3,822.3 L564.9,820.7 L566.8,822.9 L568.7,823.2 L570.5,820.6 L572.4,817.0 L574.0,819.7 L575.5,824.4 L577.2,824.4 L578.9,823.4 L580.5,822.0 L582.2,821.9 L584.4,820.9 L586.5,820.6 L588.7,821.6 L590.9,820.7 L593.0,820.9 L595.0,822.3 L597.1,822.5 L599.0,820.7 L600.8,820.7 L602.9,821.1 L604.9,822.5 L607.0,823.2 L608.9,823.2 L612.5,820.6 L614.4,820.7 L616.2,820.1 L618.1,822.7 L619.9,822.9 L621.8,822.5 L623.9,822.4 L625.9,820.0 L628.0,820.1 L630.1,820.9 L632.1,820.6 L634.2,819.4 L635.8,820.6 L637.5,821.3 L639.1,820.7 L641.0,820.2 L642.8,820.6 L644.6,820.4 L646.5,821.3 L648.5,822.5 L650.5,822.6 L652.4,822.1 L654.4,824.0 L658.6,824.7 L660.8,823.7 L662.9,822.9 L665.1,821.9 L669.2,822.0 L671.2,823.2 L675.0,822.5 L676.8,821.6 L678.7,821.9 L680.8,821.4 L682.9,820.8 L684.9,820.6 L687.0,821.5 L689.0,821.7 L691.0,822.7 L693.0,823.2 L695.0,822.5 L696.7,821.2 L698.3,820.4 L700.0,821.0 L701.8,821.4 L703.6,820.5 L705.5,820.0 L707.3,820.9 L709.3,820.7 L713.2,819.4 L715.2,817.7 L717.2,816.3 L719.2,815.6 L721.1,816.0 L723.1,814.5 L724.7,813.7 L729.4,806.7 L731.0,806.6 L732.5,803.7 L734.1,803.5 L735.7,802.7 L737.2,799.7 L738.8,798.8 L740.4,795.8 L742.0,794.1 L743.5,790.5 L745.1,786.2 L746.4,789.3 L747.5,773.6 L749.1,762.5 L750.2,761.4 L751.4,760.9 L754.6,763.3 L755.8,767.3 L757.0,772.0 L758.1,780.0 L759.3,787.7 L760.5,796.3 L761.7,803.5 L762.9,809.8 L764.1,814.5 L765.7,817.9 L767.2,820.9 L768.8,822.5 L770.4,824.0 L772.5,824.6 L774.6,824.4 L776.7,823.2 L778.6,823.6 L780.5,823.6 L782.3,824.7 L784.2,822.8 L786.1,824.0 L788.0,823.6 L790.0,823.1 L791.7,822.3 L793.4,821.8 L795.1,821.6 L796.8,822.2 L798.5,821.5 L800.2,823.1 L801.9,821.4 L803.6,822.2 L805.3,821.5 L807.0,821.3 L808.7,819.5 L812.1,819.8 L813.8,818.6 L815.5,816.7 L817.2,816.3 L818.9,818.0 L820.6,818.1 L822.3,819.7 L824.0,819.7 L825.7,821.4 L827.4,822.2 L830.8,821.3 L832.5,819.5 L834.2,819.7 L836.3,819.5 L838.4,818.0 L840.5,820.8 L842.7,821.4 L844.4,820.8 L846.1,818.8 L847.8,819.7 L849.5,822.2 L851.2,821.6 L852.9,822.1 L854.6,820.5 L856.3,821.6 L858.0,822.1 L859.7,823.9 L861.4,823.8 L863.1,825.9 L864.8,826.5 L866.5,825.3 L868.2,824.5 L869.9,824.8 L871.6,825.5 L873.3,825.1 L875.0,826.5 L877.0,826.2 L878.1,825.8 L879.3,826.8 L880.6,826.5 L883.3,825.5 L884.8,825.6 L887.0,825.4 L888.4,826.5 L889.8,826.4 L891.2,826.4 L892.6,825.9 L894.1,826.8 L895.7,826.7 L896.9,827.0 L898.0,826.1 L900.9,826.9 L902.5,826.6 L904.1,827.1 L905.6,827.4 L907.1,826.3 L908.5,826.0 L909.9,826.2 L911.3,826.9 L912.7,826.2 L914.8,826.8 L916.7,826.3 L917.9,825.7 L919.0,827.0 L921.0,826.7 L922.7,827.7 L924.3,826.6 L925.9,826.1 L927.6,826.3 L928.8,826.0 L930.1,826.1 L931.3,825.2 L932.5,826.0 L934.4,826.9 L935.9,827.0 L937.4,826.8 L938.7,827.0 L940.0,826.1 L942.2,826.9 L943.8,826.8 L946.8,826.1 L948.3,827.0 L950.2,826.4 L951.3,826.5 L952.5,826.3" fill="none" stroke="#8c1212" stroke-width="1.2" stroke-linejoin="round"/>
<path d="M117.5,827.7 L121.8,827.6 L126.2,827.7 L130.5,827.6 L134.8,827.7 L137.0,827.6 L138.1,826.8 L140.0,826.3 L141.9,825.2 L143.8,824.6 L147.7,823.8 L149.6,823.2 L151.8,820.6 L153.9,817.4 L156.8,815.7 L158.3,814.5 L159.7,815.4 L161.1,816.0 L162.6,812.8 L164.0,810.2 L165.5,808.7 L166.9,814.5 L169.8,820.3 L171.9,822.4 L174.1,823.9 L178.4,826.0 L179.7,827.0 L181.0,827.6 L183.0,827.7 L187.3,827.6 L194.2,827.7 L195.9,827.6 L199.3,827.7 L200.9,827.6 L202.6,827.4 L205.7,827.6 L207.2,827.5 L218.9,827.7 L220.7,827.6 L222.9,827.7 L226.6,827.5 L228.2,827.7 L254.6,827.6 L256.3,827.4 L258.0,827.7 L356.2,827.7 L357.9,827.6 L359.7,827.7 L361.6,827.5 L382.9,827.7 L384.9,827.5 L387.0,827.7 L394.6,827.7 L396.2,827.5 L399.4,827.6 L401.1,827.4 L402.9,827.7 L410.7,827.7 L433.7,827.7 L435.7,827.6 L455.1,827.7 L456.5,827.6 L477.2,827.7 L478.9,827.5 L480.5,827.6 L516.1,827.7 L517.7,827.6 L528.9,827.7 L530.3,827.6 L551.6,827.7 L553.2,827.5 L554.9,827.7 L601.2,827.6 L602.8,827.5 L604.4,827.7 L609.4,827.7 L610.9,827.6 L614.0,827.6 L703.9,827.7 L707.3,826.4 L709.4,825.3 L711.5,824.0 L713.6,823.2 L715.7,821.3 L717.8,819.6 L719.9,817.7 L721.5,815.7 L723.0,813.4 L724.6,811.4 L726.2,808.2 L727.8,805.2 L729.4,801.9 L731.0,800.9 L732.5,800.4 L733.7,795.8 L734.9,790.9 L737.3,787.7 L738.8,780.0 L740.4,772.0 L742.0,760.7 L743.6,749.9 L744.8,737.6 L745.9,724.7 L747.1,716.6 L748.3,708.9 L749.5,700.9 L750.7,692.5 L751.6,689.2 L752.3,688.2 L753.0,689.2 L753.8,692.5 L755.4,705.8 L756.5,717.5 L757.7,729.4 L758.9,742.5 L760.1,756.2 L761.3,767.1 L762.5,778.3 L763.6,789.5 L764.8,800.4 L767.2,816.1 L768.8,821.0 L770.4,825.6 L774.0,827.5 L776.0,827.4 L780.2,827.7 L829.2,827.7 L831.2,827.4 L840.4,827.7 L842.4,827.6 L844.1,827.7 L845.8,827.4 L847.5,827.5 L849.0,827.3 L850.5,827.6 L855.7,827.6 L861.2,827.3 L867.2,827.7 L884.3,827.7 L886.0,827.5 L887.7,827.7 L889.5,827.5 L891.3,827.7 L906.5,827.7 L908.2,827.3 L910.4,827.1 L912.5,827.3 L914.6,827.3 L921.0,827.7 L924.1,827.7 L925.6,827.5 L927.2,827.4 L928.8,827.1 L932.5,827.7 L941.3,827.7 L943.3,827.5 L952.5,827.7" fill="none" stroke="#0000ff" stroke-width="1.2" stroke-linejoin="round"/>
<path d="M117.5,812.0 L119.3,812.3 L122.2,814.1 L125.6,811.7 L127.5,811.1 L129.4,811.6 L131.6,809.1 L133.7,808.7 L135.2,810.4 L138.1,813.1 L139.6,812.2 L141.0,810.2 L143.2,811.4 L145.3,811.6 L146.8,810.3 L148.2,810.2 L150.3,808.9 L152.5,808.7 L154.7,807.4 L156.8,803.7 L158.7,803.2 L160.7,800.8 L162.6,801.5 L164.5,801.7 L166.4,802.1 L168.3,803.7 L170.5,805.3 L172.7,807.3 L174.8,808.8 L177.0,811.6 L178.4,812.4 L179.9,816.0 L182.1,812.8 L184.2,811.6 L190.0,809.7 L191.4,809.1 L192.9,808.7 L195.7,811.6 L198.6,809.5 L200.1,807.3 L202.2,809.5 L204.4,808.7 L206.3,805.9 L208.3,805.1 L210.2,803.0 L212.1,803.4 L214.0,804.5 L215.9,807.3 L218.1,805.2 L220.2,805.1 L221.7,806.9 L223.1,810.5 L224.6,812.3 L226.8,811.7 L228.9,808.7 L230.8,809.3 L232.8,811.3 L234.7,811.6 L238.5,809.8 L240.4,810.2 L242.2,809.0 L244.0,810.6 L245.8,808.2 L247.6,808.7 L249.5,809.4 L251.5,811.0 L253.4,810.2 L254.7,808.9 L256.0,808.1 L257.2,808.2 L258.4,807.2 L259.8,808.4 L261.3,807.3 L262.5,809.1 L263.7,811.4 L264.9,812.0 L266.0,812.9 L267.4,812.9 L268.7,810.9 L270.0,811.2 L271.3,810.5 L273.5,812.8 L274.6,812.9 L275.8,813.4 L277.2,811.6 L278.7,808.0 L280.7,809.0 L282.2,808.8 L283.6,807.5 L284.9,808.9 L286.2,808.2 L287.6,810.1 L289.0,811.7 L290.4,811.2 L291.7,808.4 L293.1,807.7 L294.5,808.9 L297.4,809.2 L298.9,809.6 L300.4,812.3 L301.8,811.7 L303.3,812.3 L304.7,811.3 L306.1,811.0 L308.0,812.8 L309.2,811.5 L310.4,807.8 L311.5,808.7 L312.7,808.6 L314.7,812.0 L316.5,812.7 L317.7,811.3 L319.0,808.6 L321.2,809.0 L323.0,811.0 L324.3,811.6 L325.6,812.8 L327.1,813.8 L328.5,812.2 L330.1,812.7 L331.6,812.9 L332.9,811.7 L334.2,810.8 L335.5,810.2 L336.7,811.8 L338.2,811.9 L339.7,812.2 L341.1,810.9 L342.6,807.6 L343.7,806.7 L344.9,806.6 L346.1,809.2 L347.4,809.2 L348.6,811.2 L349.9,811.6 L351.9,811.5 L353.1,811.1 L354.4,808.5 L355.9,806.8 L357.5,806.7 L358.7,806.4 L359.8,808.9 L361.1,809.6 L362.4,812.2 L363.6,811.0 L364.9,812.6 L367.0,810.4 L368.8,810.7 L370.0,810.3 L371.1,811.6 L373.0,810.0 L374.5,809.5 L376.0,806.9 L377.4,809.2 L378.7,809.8 L380.0,808.5 L382.6,811.4 L383.8,812.4 L385.9,811.6 L387.2,811.8 L388.5,811.5 L389.7,809.0 L390.9,807.4 L392.3,807.7 L393.7,807.6 L395.1,808.4 L396.5,811.9 L397.9,811.8 L399.3,809.7 L400.8,810.5 L402.2,809.0 L404.4,809.8 L405.7,809.4 L407.0,810.8 L408.2,809.0 L409.4,809.4 L410.8,808.4 L412.2,808.5 L413.5,808.9 L414.7,806.4 L416.6,810.8 L418.6,809.4 L420.4,811.1 L422.5,807.4 L424.6,811.5 L426.0,810.6 L427.4,807.3 L428.9,806.7 L430.4,806.4 L431.6,808.2 L432.8,808.8 L434.2,807.1 L435.6,807.3 L437.0,806.0 L438.5,807.6 L439.8,808.5 L441.2,811.5 L442.5,810.5 L443.7,807.3 L445.1,809.2 L446.4,808.5 L447.7,811.0 L449.1,810.9 L450.9,810.4 L452.3,811.5 L453.6,812.3 L454.8,812.6 L456.1,811.1 L457.5,809.2 L458.9,808.1 L460.4,808.0 L461.8,809.6 L463.1,808.0 L464.4,807.6 L465.6,809.5 L466.9,808.5 L468.8,811.8 L470.3,810.3 L471.7,810.0 L473.5,812.5 L475.4,810.5 L476.6,810.8 L477.9,811.9 L479.2,812.8 L480.5,810.9 L481.7,811.1 L482.9,812.8 L484.3,811.5 L485.8,809.7 L487.2,809.6 L488.6,812.2 L489.8,811.1 L491.0,808.0 L492.7,811.8 L494.7,812.0 L496.7,808.7 L498.6,811.2 L500.4,809.9 L501.8,808.6 L503.2,809.8 L504.9,806.9 L506.4,806.6 L507.8,807.6 L509.6,809.2 L511.0,807.8 L512.4,808.3 L514.3,807.4 L515.5,807.5 L516.7,810.6 L519.8,812.1 L521.1,810.5 L522.2,808.3 L523.4,807.1 L524.6,806.6 L525.8,808.3 L527.1,806.1 L528.4,806.7 L530.3,805.9 L531.5,804.8 L532.7,805.9 L533.9,805.9 L535.2,808.1 L537.3,807.4 L538.8,807.9 L542.2,809.8 L543.5,809.1 L544.9,809.6 L546.4,810.9 L547.9,811.6 L549.2,810.9 L550.6,807.4 L551.7,807.1 L552.8,809.0 L554.7,809.4 L556.1,809.3 L557.4,811.0 L558.7,810.4 L560.0,809.6 L562.1,807.5 L566.2,804.6 L567.5,807.3 L568.7,809.6 L570.5,806.7 L572.4,803.4 L574.4,803.5 L576.5,800.7 L578.5,800.3 L580.0,799.7 L581.6,802.1 L584.7,796.6 L588.4,799.7 L589.6,802.6 L590.9,807.1 L592.8,803.4 L595.0,806.2 L597.1,809.6 L598.9,810.8 L600.8,814.3 L602.6,814.5 L606.4,808.3 L607.9,808.4 L609.4,809.6 L611.3,813.3 L613.2,815.1 L615.0,813.2 L616.9,812.6 L618.8,811.3 L620.6,811.6 L622.4,812.7 L624.3,810.8 L625.8,808.6 L627.4,805.2 L629.5,806.9 L631.7,807.1 L633.6,808.2 L635.4,811.7 L637.3,813.9 L639.5,810.3 L641.6,809.6 L643.2,810.0 L644.9,809.8 L646.5,808.3 L648.4,807.1 L650.2,807.6 L652.1,807.7 L654.0,808.9 L655.8,809.6 L657.7,812.0 L659.3,809.3 L661.0,805.9 L662.6,804.6 L664.2,805.7 L665.9,807.6 L667.5,810.8 L669.2,807.6 L671.0,803.5 L672.6,804.7 L674.2,806.4 L675.8,806.7 L677.8,805.7 L679.7,807.4 L681.6,808.6 L683.6,808.2 L685.6,807.1 L687.5,805.8 L689.5,804.9 L691.5,805.1 L693.6,804.0 L695.7,801.8 L697.8,798.8 L699.8,790.5 L701.8,783.0 L702.9,779.2 L704.0,775.0 L705.7,773.5 L707.0,775.0 L708.1,779.0 L709.7,784.6 L710.9,783.3 L712.0,784.6 L713.6,776.0 L714.4,775.5 L715.5,780.0 L716.8,792.5 L718.3,797.4 L719.9,801.9 L721.5,804.9 L723.0,803.9 L724.6,806.7 L726.2,807.3 L727.8,808.7 L729.4,808.2 L731.0,807.9 L732.5,806.4 L734.1,805.9 L735.7,807.0 L737.2,807.9 L740.9,807.2 L743.0,806.2 L747.0,807.1 L748.8,806.1 L750.7,803.5 L752.5,805.5 L754.4,806.8 L756.2,806.7 L759.3,810.3 L760.9,811.4 L763.0,810.8 L765.1,809.9 L767.2,807.5 L769.3,810.7 L771.4,810.6 L773.5,813.0 L775.6,811.0 L777.7,811.1 L779.8,808.2 L781.9,809.3 L784.0,812.3 L786.1,812.2 L788.0,813.3 L790.0,812.9 L791.7,810.7 L793.4,809.5 L795.1,806.1 L796.4,807.3 L797.6,811.2 L801.9,803.5 L804.4,808.6 L806.5,805.6 L808.7,804.4 L810.0,806.3 L811.2,805.2 L812.5,802.7 L813.8,801.0 L815.0,798.7 L816.3,799.3 L817.4,797.7 L818.5,793.3 L820.2,807.8 L821.7,807.9 L823.1,806.1 L824.4,803.3 L825.7,801.8 L827.4,801.1 L829.1,798.4 L831.2,797.1 L833.3,796.7 L834.6,798.8 L835.9,799.3 L837.1,797.3 L838.4,795.0 L839.7,798.3 L841.0,799.3 L842.7,800.3 L844.4,799.2 L846.1,801.0 L847.8,803.8 L849.5,804.4 L851.2,804.5 L852.9,801.0 L854.6,801.0 L856.7,799.7 L858.8,801.0 L862.2,795.0 L864.4,795.6 L866.5,797.6 L868.2,802.3 L869.9,804.4 L872.0,800.9 L874.1,799.3 L876.2,799.2 L878.4,801.8 L880.5,801.6 L882.6,799.3 L884.3,799.7 L886.0,801.9 L887.7,802.7 L889.9,801.1 L892.0,797.6 L894.1,795.8 L896.2,791.6 L897.9,795.1 L899.6,797.6 L901.3,796.6 L905.1,791.1 L907.2,788.2 L908.9,790.3 L910.6,790.8 L911.9,789.6 L913.2,787.4 L914.9,791.8 L916.6,794.2 L918.3,793.9 L920.0,795.9 L922.1,798.6 L924.2,799.3 L925.9,799.4 L929.3,802.7 L931.0,800.8 L932.7,801.7 L936.5,798.2 L938.7,795.0 L940.4,798.9 L942.1,804.4 L943.8,804.4 L945.5,806.1 L947.2,802.3 L948.9,800.1 L950.6,798.2 L952.3,797.6" fill="none" stroke="#ff17ff" stroke-width="1.2" stroke-linejoin="round"/>
<path d="M117.5,827.7 L122.9,827.7 L124.7,827.6 L126.6,827.7 L128.2,827.6 L129.8,827.7 L131.3,827.4 L132.9,827.7 L136.1,827.7 L137.7,827.2 L139.4,827.6 L141.2,827.7 L146.2,827.4 L148.2,827.7 L152.3,827.2 L154.4,827.7 L159.6,827.7 L161.4,827.4 L163.2,827.7 L164.8,827.7 L166.5,827.5 L168.1,827.6 L169.7,827.1 L171.3,827.4 L174.9,827.7 L176.8,827.6 L178.5,827.3 L180.2,827.7 L183.5,827.7 L185.1,827.6 L186.7,827.7 L188.5,827.4 L190.3,827.7 L192.4,827.5 L194.6,827.7 L196.1,827.3 L197.6,827.6 L199.5,827.2 L201.4,827.5 L203.6,826.8 L205.8,826.8 L210.2,821.7 L211.6,822.3 L213.0,823.5 L214.9,824.7 L216.9,825.3 L218.8,826.8 L221.0,827.5 L223.0,827.7 L225.0,827.6 L234.8,827.7 L236.4,827.5 L238.0,827.7 L239.9,827.5 L241.8,827.7 L246.5,827.7 L251.2,827.4 L252.7,827.5 L254.5,827.3 L256.3,827.6 L258.3,827.7 L260.3,827.5 L261.7,827.1 L263.1,827.5 L270.8,827.7 L272.7,827.4 L274.6,827.7 L276.8,827.4 L279.0,827.7 L281.2,827.2 L285.1,827.7 L293.6,827.7 L296.8,827.2 L300.1,827.4 L301.8,827.3 L303.5,827.7 L305.4,827.7 L307.2,827.5 L308.8,827.6 L310.5,827.2 L312.2,827.7 L315.5,827.7 L318.7,827.4 L320.4,827.4 L322.0,827.7 L327.9,827.7 L329.4,827.4 L330.9,827.7 L332.6,827.5 L334.3,827.6 L336.0,827.5 L337.9,827.7 L341.7,827.4 L343.7,827.7 L370.6,827.7 L372.1,827.3 L373.6,827.7 L377.0,827.5 L382.0,827.7 L385.3,827.4 L386.9,827.6 L388.5,827.7 L391.6,827.2 L393.1,827.2 L394.6,827.5 L396.4,827.5 L400.0,826.5 L401.5,825.4 L403.0,824.5 L406.0,826.0 L407.5,825.9 L409.0,824.8 L410.5,825.6 L412.0,826.8 L414.0,827.7 L417.2,827.7 L418.9,827.5 L420.7,827.6 L422.6,827.4 L424.7,827.3 L426.9,827.4 L428.7,827.3 L430.5,827.7 L431.9,827.7 L435.2,827.2 L436.9,827.7 L445.8,827.6 L447.8,827.7 L449.7,827.5 L451.3,827.0 L452.8,827.3 L454.4,827.3 L455.9,827.1 L459.0,827.5 L461.1,827.3 L463.2,827.4 L464.8,827.7 L466.5,827.7 L470.1,827.4 L472.1,827.7 L474.2,827.4 L476.3,827.7 L491.4,827.7 L493.0,827.3 L496.2,827.7 L498.3,827.6 L508.2,827.7 L510.0,827.5 L511.7,827.7 L513.5,827.4 L515.2,827.5 L517.4,827.3 L519.5,827.7 L522.5,827.6 L524.1,827.2 L528.9,827.7 L530.3,827.3 L531.8,827.6 L533.4,827.5 L535.0,827.7 L537.2,827.6 L539.3,827.7 L543.5,827.6 L545.1,827.2 L548.2,827.4 L550.1,827.4 L552.1,827.6 L555.1,827.7 L558.1,827.2 L559.5,827.6 L561.7,827.5 L565.2,827.7 L566.7,827.5 L568.2,827.2 L569.7,827.7 L574.6,827.7 L576.3,827.4 L578.4,827.7 L582.5,827.7 L584.4,827.4 L586.3,827.6 L588.1,827.5 L589.7,827.7 L592.8,827.7 L594.3,827.5 L596.0,827.7 L597.6,827.5 L599.3,827.7 L605.2,827.7 L606.7,827.2 L609.9,827.7 L611.6,827.6 L618.9,827.6 L621.0,827.3 L623.1,827.7 L625.3,827.6 L627.5,827.7 L632.1,827.7 L633.8,827.5 L643.8,827.7 L645.3,827.4 L646.9,827.7 L648.5,827.7 L650.2,827.2 L653.7,827.6 L657.0,827.6 L660.1,826.2 L662.0,825.7 L663.8,824.6 L665.6,824.4 L667.5,823.2 L669.6,823.0 L671.6,822.7 L673.7,821.9 L675.2,820.2 L676.8,817.6 L678.7,819.4 L680.5,816.1 L682.2,815.2 L684.0,815.0 L686.2,813.6 L688.4,813.0 L690.5,810.9 L692.6,809.3 L694.7,807.5 L696.8,805.4 L698.9,802.7 L701.0,800.4 L702.6,799.7 L704.1,798.1 L705.7,797.2 L707.3,790.9 L710.8,786.5 L713.6,790.9 L715.2,796.0 L716.8,801.9 L718.4,805.8 L721.5,814.5 L723.1,816.7 L726.2,822.4 L727.8,823.6 L729.4,825.6 L735.0,827.7 L738.3,827.7 L740.0,827.5 L741.4,827.7 L746.4,827.6 L750.4,827.7 L751.9,827.5 L753.4,827.7 L754.9,827.7 L757.0,827.4 L759.0,827.7 L769.5,827.7 L771.7,827.6 L773.3,827.7 L775.0,827.5 L776.7,827.4 L778.3,826.9 L779.9,827.7 L781.5,827.4 L783.5,827.6 L791.2,827.4 L792.8,827.5 L794.8,826.8 L796.8,826.5 L798.5,826.0 L800.2,825.8 L803.6,824.8 L805.3,824.4 L808.7,822.2 L810.0,822.9 L811.2,823.9 L813.4,819.7 L815.5,816.3 L816.8,812.8 L818.0,809.5 L819.3,808.6 L820.6,807.8 L824.0,801.0 L825.7,798.3 L827.4,795.9 L829.1,793.9 L830.8,792.5 L832.8,779.7 L834.5,790.8 L836.0,790.5 L837.6,789.9 L839.3,790.8 L841.0,792.5 L842.5,788.5 L844.0,784.8 L846.1,792.5 L847.4,795.3 L848.6,797.6 L849.9,791.9 L851.2,785.7 L852.5,783.4 L853.7,781.4 L855.0,786.5 L856.3,792.5 L857.5,788.1 L858.8,784.0 L860.1,780.7 L861.4,778.0 L863.1,778.4 L864.8,778.0 L866.5,778.0 L867.8,779.1 L869.0,779.7 L870.1,785.1 L871.2,790.8 L872.4,785.0 L873.6,778.9 L875.8,781.4 L877.1,783.7 L878.4,785.7 L880.1,784.6 L881.8,784.0 L883.0,785.1 L884.3,786.5 L887.7,780.6 L889.4,774.6 L892.8,780.6 L894.1,777.3 L896.6,770.4 L899.6,760.2 L900.9,763.1 L902.2,767.0 L903.5,768.9 L904.7,770.4 L907.2,776.3 L908.9,772.1 L910.6,771.4 L912.3,771.2 L914.0,769.0 L915.7,767.0 L917.4,767.2 L919.1,767.0 L920.4,768.3 L921.7,770.4 L923.0,778.6 L924.2,786.5 L927.6,787.4 L929.3,787.4 L931.0,787.1 L932.7,786.5 L934.4,784.6 L936.1,783.1 L938.7,791.6 L940.0,789.0 L941.2,787.4 L942.9,787.3 L944.6,786.0 L946.3,785.7 L948.5,783.7 L950.6,782.3 L952.3,780.6" fill="none" stroke="#333333" stroke-width="1.3" stroke-linejoin="round"/>
<path d="M114.60,7.45H952.80V172.90" fill="none" stroke="#000" stroke-width="2.5" stroke-linecap="square"/>
<path d="M114.60,6.25V172.90" fill="none" stroke="#000" stroke-width="3"/>
<path d="M114.60,172.90H952.80" fill="none" stroke="#000" stroke-width="2.4"/>
<path d="M115.40,172.90V183.40M219.30,172.90V181.50M325.05,172.90V183.40M429.60,172.90V181.50M534.55,172.90V183.40M639.40,172.90V181.50M745.40,172.90V183.40M848.90,172.90V181.50M953.00,172.90V183.40" stroke="#000" stroke-width="3"/>
<path d="M136.18,172.90V175.20M156.96,172.90V175.20M177.74,172.90V175.20M198.52,172.90V175.20M240.45,172.90V175.20M261.60,172.90V175.20M282.75,172.90V175.20M303.90,172.90V175.20M345.96,172.90V175.20M366.87,172.90V175.20M387.78,172.90V175.20M408.69,172.90V175.20M450.59,172.90V175.20M471.58,172.90V175.20M492.57,172.90V175.20M513.56,172.90V175.20M555.52,172.90V175.20M576.49,172.90V175.20M597.46,172.90V175.20M618.43,172.90V175.20M660.60,172.90V175.20M681.80,172.90V175.20M703.00,172.90V175.20M724.20,172.90V175.20M766.10,172.90V175.20M786.80,172.90V175.20M807.50,172.90V175.20M828.20,172.90V175.20M869.72,172.90V175.20M890.54,172.90V175.20M911.36,172.90V175.20M932.18,172.90V175.20" stroke="#000" stroke-width="1.4"/>
<path d="M114.60,172.90H103.50M114.60,90.17H103.50M114.60,7.45H103.50" stroke="#000" stroke-width="2.5"/>
<path d="M114.60,156.36H110.80M114.60,139.81H110.80M114.60,123.27H110.80M114.60,106.72H110.80M114.60,73.63H110.80M114.60,57.09H110.80M114.60,40.54H110.80M114.60,23.99H110.80" stroke="#000" stroke-width="1.4"/>
<text x="113.05" y="203.20" text-anchor="middle" font-size="24" stroke="#000">0.0</text>
<text x="323.65" y="204.40" text-anchor="middle" font-size="24" stroke="#000">1.0</text>
<text x="532.00" y="204.30" text-anchor="middle" font-size="24" stroke="#000">2.0</text>
<text x="743.20" y="203.70" text-anchor="middle" font-size="24" stroke="#000">3.0</text>
<text x="950.30" y="202.80" text-anchor="middle" font-size="24" stroke="#000">4.0</text>
<text x="99.80" y="17.60" text-anchor="end" font-size="24" stroke="#000">200</text>
<text x="98.00" y="98.70" text-anchor="end" font-size="24" stroke="#000">100</text>
<text x="96.60" y="181.20" text-anchor="end" font-size="24" stroke="#000">0</text>
<path d="M115.40,224.10H952.60V388.55" fill="none" stroke="#000" stroke-width="2.5" stroke-linecap="square"/>
<path d="M115.40,222.90V388.55" fill="none" stroke="#000" stroke-width="3"/>
<path d="M115.40,388.55H952.60" fill="none" stroke="#000" stroke-width="2.4"/>
<path d="M115.40,388.55V399.05M220.00,388.55V397.15M324.20,388.55V399.05M429.40,388.55V397.15M534.50,388.55V399.05M639.40,388.55V397.15M744.10,388.55V399.05M847.40,388.55V397.15M952.50,388.55V399.05" stroke="#000" stroke-width="3"/>
<path d="M136.32,388.55V390.85M157.24,388.55V390.85M178.16,388.55V390.85M199.08,388.55V390.85M240.84,388.55V390.85M261.68,388.55V390.85M282.52,388.55V390.85M303.36,388.55V390.85M345.24,388.55V390.85M366.28,388.55V390.85M387.32,388.55V390.85M408.36,388.55V390.85M450.42,388.55V390.85M471.44,388.55V390.85M492.46,388.55V390.85M513.48,388.55V390.85M555.48,388.55V390.85M576.46,388.55V390.85M597.44,388.55V390.85M618.42,388.55V390.85M660.34,388.55V390.85M681.28,388.55V390.85M702.22,388.55V390.85M723.16,388.55V390.85M764.76,388.55V390.85M785.42,388.55V390.85M806.08,388.55V390.85M826.74,388.55V390.85M868.42,388.55V390.85M889.44,388.55V390.85M910.46,388.55V390.85M931.48,388.55V390.85" stroke="#000" stroke-width="1.4"/>
<path d="M115.40,388.55H103.50M115.40,306.32H103.50M115.40,224.10H103.50" stroke="#000" stroke-width="2.5"/>
<path d="M115.40,372.11H111.60M115.40,355.66H111.60M115.40,339.22H111.60M115.40,322.77H111.60M115.40,289.88H111.60M115.40,273.44H111.60M115.40,256.99H111.60M115.40,240.54H111.60" stroke="#000" stroke-width="1.4"/>
<text x="112.00" y="421.20" text-anchor="middle" font-size="24" stroke="#000">5.0</text>
<text x="324.10" y="421.00" text-anchor="middle" font-size="24" stroke="#000">6.0</text>
<text x="533.70" y="420.70" text-anchor="middle" font-size="24" stroke="#000">7.0</text>
<text x="742.20" y="421.20" text-anchor="middle" font-size="24" stroke="#000">8.0</text>
<text x="950.90" y="420.70" text-anchor="middle" font-size="24" stroke="#000">9.0</text>
<text x="100.00" y="233.20" text-anchor="end" font-size="24" stroke="#000">5.0</text>
<text x="98.30" y="314.10" text-anchor="end" font-size="24" stroke="#000">2.5</text>
<text x="97.70" y="397.20" text-anchor="end" font-size="24" stroke="#000">0.0</text>
<path d="M114.90,444.40H952.60V607.50" fill="none" stroke="#000" stroke-width="2.5" stroke-linecap="square"/>
<path d="M114.90,443.20V607.50" fill="none" stroke="#000" stroke-width="3"/>
<path d="M114.90,607.50H952.60" fill="none" stroke="#000" stroke-width="2.4"/>
<path d="M114.20,607.50V618.00M281.90,607.50V618.00M450.20,607.50V618.00M618.90,607.50V618.00M786.80,607.50V618.00M952.60,607.50V618.00" stroke="#000" stroke-width="3"/>
<path d="M147.74,607.50V609.80M181.28,607.50V609.80M214.82,607.50V609.80M248.36,607.50V609.80M315.56,607.50V609.80M349.22,607.50V609.80M382.88,607.50V609.80M416.54,607.50V609.80M483.94,607.50V609.80M517.68,607.50V609.80M551.42,607.50V609.80M585.16,607.50V609.80M652.48,607.50V609.80M686.06,607.50V609.80M719.64,607.50V609.80M753.22,607.50V609.80M819.96,607.50V609.80M853.12,607.50V609.80M886.28,607.50V609.80M919.44,607.50V609.80" stroke="#000" stroke-width="1.4"/>
<path d="M114.90,607.50H103.50M114.90,525.95H103.50M114.90,444.40H103.50" stroke="#000" stroke-width="2.5"/>
<path d="M114.90,591.19H111.10M114.90,574.88H111.10M114.90,558.57H111.10M114.90,542.26H111.10M114.90,509.64H111.10M114.90,493.33H111.10M114.90,477.02H111.10M114.90,460.71H111.10" stroke="#000" stroke-width="1.4"/>
<text x="112.70" y="637.80" text-anchor="middle" font-size="24" stroke="#000">8.5</text>
<text x="281.55" y="637.30" text-anchor="middle" font-size="24" stroke="#000">9.0</text>
<text x="454.00" y="635.60" text-anchor="middle" font-size="24" stroke="#000">9.5</text>
<text x="611.40" y="634.50" text-anchor="middle" font-size="24" stroke="#000">10.0</text>
<text x="775.45" y="637.60" text-anchor="middle" font-size="24" stroke="#000">10.5</text>
<text x="947.50" y="637.60" text-anchor="middle" font-size="24" stroke="#000">11.0</text>
<text x="99.20" y="452.70" text-anchor="end" font-size="24" stroke="#000">5.0</text>
<text x="97.20" y="533.70" text-anchor="end" font-size="24" stroke="#000">2.5</text>
<text x="96.60" y="615.40" text-anchor="end" font-size="24" stroke="#000">0.0</text>
<path d="M116.80,664.50H952.80V827.90" fill="none" stroke="#000" stroke-width="2.5" stroke-linecap="square"/>
<path d="M116.80,663.30V827.90" fill="none" stroke="#000" stroke-width="3"/>
<path d="M116.80,827.90H952.80" fill="none" stroke="#000" stroke-width="2.4"/>
<path d="M116.60,827.90V838.40M222.00,827.90V836.50M326.10,827.90V838.40M430.50,827.90V836.50M535.80,827.90V838.40M641.20,827.90V836.50M745.00,827.90V838.40M848.10,827.90V836.50M952.80,827.90V838.40" stroke="#000" stroke-width="3"/>
<path d="M137.68,827.90V830.20M158.76,827.90V830.20M179.84,827.90V830.20M200.92,827.90V830.20M242.82,827.90V830.20M263.64,827.90V830.20M284.46,827.90V830.20M305.28,827.90V830.20M346.98,827.90V830.20M367.86,827.90V830.20M388.74,827.90V830.20M409.62,827.90V830.20M451.56,827.90V830.20M472.62,827.90V830.20M493.68,827.90V830.20M514.74,827.90V830.20M556.88,827.90V830.20M577.96,827.90V830.20M599.04,827.90V830.20M620.12,827.90V830.20M661.96,827.90V830.20M682.72,827.90V830.20M703.48,827.90V830.20M724.24,827.90V830.20M765.62,827.90V830.20M786.24,827.90V830.20M806.86,827.90V830.20M827.48,827.90V830.20M869.04,827.90V830.20M889.98,827.90V830.20M910.92,827.90V830.20M931.86,827.90V830.20" stroke="#000" stroke-width="1.4"/>
<path d="M116.80,827.90H103.50M116.80,746.20H103.50M116.80,664.50H103.50" stroke="#000" stroke-width="2.5"/>
<path d="M116.80,811.56H113.00M116.80,795.22H113.00M116.80,778.88H113.00M116.80,762.54H113.00M116.80,729.86H113.00M116.80,713.52H113.00M116.80,697.18H113.00M116.80,680.84H113.00" stroke="#000" stroke-width="1.4"/>
<text x="116.00" y="861.30" text-anchor="middle" font-size="24" stroke="#000">9.0</text>
<text x="320.25" y="858.70" text-anchor="middle" font-size="24" stroke="#000">10.0</text>
<text x="531.60" y="859.60" text-anchor="middle" font-size="24" stroke="#000">11.0</text>
<text x="738.30" y="858.40" text-anchor="middle" font-size="24" stroke="#000">12.0</text>
<text x="946.75" y="858.80" text-anchor="middle" font-size="24" stroke="#000">13.0</text>
<text x="100.00" y="674.90" text-anchor="end" font-size="24" stroke="#000">10.0</text>
<text x="99.70" y="754.70" text-anchor="end" font-size="24" stroke="#000">5.0</text>
<text x="96.60" y="836.20" text-anchor="end" font-size="24" stroke="#000">0.0</text>
<text x="607.3" y="42.7" font-size="24" stroke="#000">B6CA</text>
<text x="825.3" y="103.9" font-size="24" stroke="#000">B5CA</text>
<text x="210.6" y="297" font-size="24" stroke="#000">1,2,4,5-B4CA</text>
<text x="534.0" y="314.5" font-size="24" stroke="#000">B4CA isomers</text>
<text x="484.0" y="513.4" font-size="24" stroke="#000">1,2,4-B3CA</text>
<text x="689.5" y="533.2" font-size="24" stroke="#000">1,2,3-B3CA</text>
<text x="720.8" y="687.5" font-size="24" stroke="#000">5-NO<tspan font-size="16.5" dy="5.8">2</tspan><tspan dy="-5.8">-1,2,3-B3CA</tspan></text>
<text x="505.3" y="755.4" font-size="24" stroke="#000">3-NO<tspan font-size="16.5" dy="5.8">2</tspan><tspan dy="-5.8">-1,2-B2CA</tspan></text>
<circle cx="668.9" cy="353.6" r="0.7" fill="#555"/>
<path d="M231.2,300.8L181.4,337" stroke="#000" stroke-width="2.2"/>
<path d="M455,374.3L551.4,317.6" stroke="#000" stroke-width="2.2"/>
<path d="M664.9,317.6L789.1,359.6" stroke="#000" stroke-width="2.2"/>
<path d="M505.8,523.6L455.2,559.7" stroke="#000" stroke-width="2.2"/>
<path d="M675.6,759.5L696.6,789.4" stroke="#000" stroke-width="2.2"/>
<text x="119.00" y="33.40" font-size="28" font-weight="bold" stroke="#000">(A)</text>
<text x="120.40" y="251.60" font-size="28" font-weight="bold" stroke="#000">(B)</text>
<text x="122.00" y="472.00" font-size="28" font-weight="bold" stroke="#000">(C)</text>
<text x="122.60" y="691.60" font-size="28" font-weight="bold" stroke="#000">(D)</text>
<text x="166.50" y="58.60" font-size="24" fill="#000" stroke="#000"><tspan font-style="italic">m/z</tspan>: 235.20</text>
<text x="292.50" y="58.10" font-size="36" fill="#000" transform="translate(292.50,0) scale(1.07,1) translate(-292.50,0)" stroke="#000">→</text>
<text x="330.50" y="58.60" font-size="24" fill="#000" stroke="#000">191.05</text>
<text x="166.50" y="87.30" font-size="24" fill="#ff17ff" stroke="#ff17ff"><tspan font-style="italic">m/z</tspan>: 235.20</text>
<text x="292.50" y="86.80" font-size="36" fill="#ff17ff" transform="translate(292.50,0) scale(1.07,1) translate(-292.50,0)" stroke="#ff17ff">→</text>
<text x="330.50" y="87.30" font-size="24" fill="#ff17ff" stroke="#ff17ff">118.95</text>
<text x="166.50" y="116.10" font-size="24" fill="#0000ff" stroke="#0000ff"><tspan font-style="italic">m/z</tspan>: 323.00</text>
<text x="292.50" y="115.60" font-size="36" fill="#0000ff" transform="translate(292.50,0) scale(1.07,1) translate(-292.50,0)" stroke="#0000ff">→</text>
<text x="330.50" y="116.10" font-size="24" fill="#0000ff" stroke="#0000ff">191.10</text>
<text x="166.50" y="145.00" font-size="24" fill="#8c1212" stroke="#8c1212"><tspan font-style="italic">m/z</tspan>: 323.00</text>
<text x="292.50" y="144.50" font-size="36" fill="#8c1212" transform="translate(292.50,0) scale(1.07,1) translate(-292.50,0)" stroke="#8c1212">→</text>
<text x="330.50" y="145.00" font-size="24" fill="#8c1212" stroke="#8c1212">146.95</text>
<text x="667.60" y="253.90" font-size="24" fill="#000" stroke="#000"><tspan font-style="italic">m/z</tspan>: 235.20</text>
<text x="793.60" y="253.40" font-size="36" fill="#000" transform="translate(793.60,0) scale(1.07,1) translate(-793.60,0)" stroke="#000">→</text>
<text x="831.60" y="253.90" font-size="24" fill="#000" stroke="#000">120.95</text>
<text x="667.60" y="282.30" font-size="24" fill="#ff17ff" stroke="#ff17ff"><tspan font-style="italic">m/z</tspan>: 235.20</text>
<text x="793.60" y="281.80" font-size="36" fill="#ff17ff" transform="translate(793.60,0) scale(1.07,1) translate(-793.60,0)" stroke="#ff17ff">→</text>
<text x="831.60" y="282.30" font-size="24" fill="#ff17ff" stroke="#ff17ff">165.10</text>
<text x="162.60" y="496.70" font-size="24" fill="#000" stroke="#000"><tspan font-style="italic">m/z</tspan>: 209.30</text>
<text x="288.60" y="496.20" font-size="36" fill="#000" transform="translate(288.60,0) scale(1.07,1) translate(-288.60,0)" stroke="#000">→</text>
<text x="326.60" y="496.70" font-size="24" fill="#000" stroke="#000">120.95</text>
<text x="162.60" y="525.80" font-size="24" fill="#ff17ff" stroke="#ff17ff"><tspan font-style="italic">m/z</tspan>: 209.30</text>
<text x="288.60" y="525.30" font-size="36" fill="#ff17ff" transform="translate(288.60,0) scale(1.07,1) translate(-288.60,0)" stroke="#ff17ff">→</text>
<text x="326.60" y="525.80" font-size="24" fill="#ff17ff" stroke="#ff17ff">165.05</text>
<text x="162.60" y="554.50" font-size="24" fill="#0000ff" stroke="#0000ff"><tspan font-style="italic">m/z</tspan>: 209.00</text>
<text x="288.60" y="554.00" font-size="36" fill="#0000ff" transform="translate(288.60,0) scale(1.07,1) translate(-288.60,0)" stroke="#0000ff">→</text>
<text x="326.60" y="554.50" font-size="24" fill="#0000ff" stroke="#0000ff">121.00</text>
<text x="162.60" y="583.50" font-size="24" fill="#8c1212" stroke="#8c1212"><tspan font-style="italic">m/z</tspan>: 209.00</text>
<text x="288.60" y="583.00" font-size="36" fill="#8c1212" transform="translate(288.60,0) scale(1.07,1) translate(-288.60,0)" stroke="#8c1212">→</text>
<text x="326.60" y="583.50" font-size="24" fill="#8c1212" stroke="#8c1212">165.05</text>
<text x="166.40" y="703.20" font-size="24" fill="#000" stroke="#000"><tspan font-style="italic">m/z</tspan>: 210.20</text>
<text x="292.40" y="702.70" font-size="36" fill="#000" transform="translate(292.40,0) scale(1.07,1) translate(-292.40,0)" stroke="#000">→</text>
<text x="330.40" y="703.20" font-size="24" fill="#000" stroke="#000">121.95</text>
<text x="166.40" y="731.60" font-size="24" fill="#ff17ff" stroke="#ff17ff"><tspan font-style="italic">m/z</tspan>: 210.20</text>
<text x="292.40" y="731.10" font-size="36" fill="#ff17ff" transform="translate(292.40,0) scale(1.07,1) translate(-292.40,0)" stroke="#ff17ff">→</text>
<text x="330.40" y="731.60" font-size="24" fill="#ff17ff" stroke="#ff17ff">166.10</text>
<text x="166.40" y="760.30" font-size="24" fill="#0000ff" stroke="#0000ff"><tspan font-style="italic">m/z</tspan>: 254.20</text>
<text x="292.40" y="759.80" font-size="36" fill="#0000ff" transform="translate(292.40,0) scale(1.07,1) translate(-292.40,0)" stroke="#0000ff">→</text>
<text x="330.40" y="760.30" font-size="24" fill="#0000ff" stroke="#0000ff">166.05</text>
<text x="166.40" y="789.20" font-size="24" fill="#8c1212" stroke="#8c1212"><tspan font-style="italic">m/z</tspan>: 254.20</text>
<text x="292.40" y="788.70" font-size="36" fill="#8c1212" transform="translate(292.40,0) scale(1.07,1) translate(-292.40,0)" stroke="#8c1212">→</text>
<text x="330.40" y="789.20" font-size="24" fill="#8c1212" stroke="#8c1212">209.95</text>
<text x="286.9" y="914" font-size="28" textLength="486" lengthAdjust="spacingAndGlyphs" stroke="#000">Chromatographic Retention Time (min)</text>
<text transform="translate(23,645.3) rotate(-90)" x="0" y="0" font-size="28.4" stroke="#000">Mass Spectral Signal Intensity (×10<tspan font-size="19" dy="-9">4</tspan><tspan dy="9">)</tspan></text>
</svg></body></html>
